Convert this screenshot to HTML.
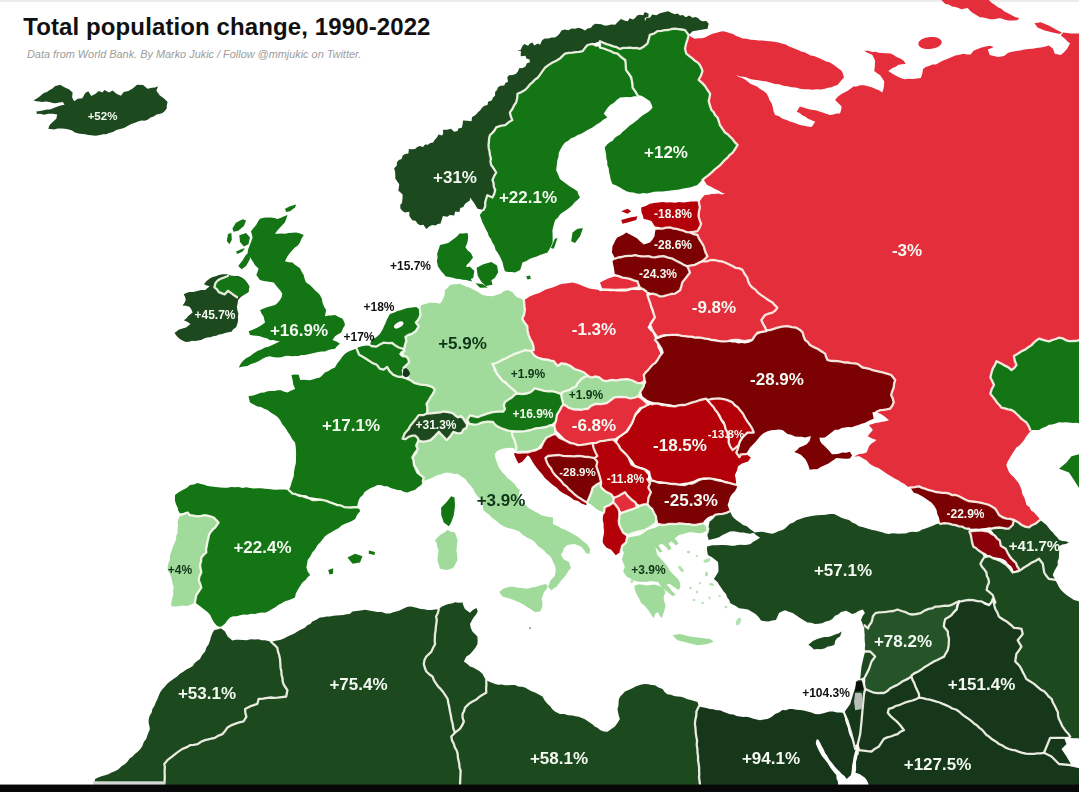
<!DOCTYPE html>
<html lang="en"><head><meta charset="utf-8"><title>Total population change, 1990-2022</title>
<style>
html,body{margin:0;padding:0;background:#fff}
body{width:1079px;height:792px;overflow:hidden;position:relative;font-family:"Liberation Sans",Arial,sans-serif}
svg{position:absolute;left:0;top:0;display:block;filter:blur(.4px)}
.b{fill:none;stroke:#fdfbf2;stroke-opacity:.9;stroke-width:2.3;stroke-linejoin:round;stroke-linecap:round}
text{font-family:"Liberation Sans",Arial,sans-serif;font-weight:bold;text-anchor:middle}
h1{position:absolute;left:23.2px;top:11.5px;margin:0;font-size:24px;letter-spacing:.11px;line-height:30px;font-weight:bold;color:#111;white-space:nowrap}
p.sub{position:absolute;left:27px;top:47.5px;margin:0;font-size:10.9px;line-height:13px;font-style:italic;color:#9c9c9c;white-space:nowrap}
</style></head><body>
<svg width="1079" height="792" viewBox="0 0 1079 792">
<rect width="1079" height="792" fill="#fff"/>
<rect width="1079" height="2" fill="#ececec"/>
<path id="russia" fill="#e52e3c" d="M688.8,35.0 691.7,37.2 695.0,38.8 698.3,38.3 701.7,38.2 705.0,37.5 708.7,35.5 712.5,33.8 715.8,32.9 719.1,32.0 722.5,31.2 725.9,31.8 729.2,32.9 732.5,33.8 735.7,35.7 739.2,37.0 742.6,38.6 746.7,38.7 750.8,39.8 755.0,39.9 758.7,40.4 762.5,40.6 766.2,41.1 770.0,41.2 774.2,41.7 778.4,42.6 782.5,43.7 785.8,44.6 788.7,46.3 791.9,47.6 795.0,48.8 798.1,50.1 801.1,51.6 804.5,52.2 807.5,53.8 810.5,55.4 813.9,55.9 817.0,57.2 820.1,58.6 823.1,60.1 826.1,61.6 829.5,62.3 832.4,63.9 835.3,66.0 838.1,68.2 841.1,70.2 842.9,73.6 844.0,77.4 841.6,79.9 839.6,82.5 837.5,85.0 834.4,86.0 831.4,87.3 828.1,87.8 825.0,88.7 820.9,89.5 816.6,89.3 812.5,89.8 808.4,89.3 804.2,89.3 800.0,88.8 795.9,87.6 791.6,87.2 787.5,86.2 783.3,85.8 779.2,84.3 775.0,83.9 770.9,82.7 766.8,81.6 762.5,81.1 758.4,80.2 754.1,79.7 750.0,78.9 746.8,77.5 743.4,76.7 740.0,76.4 736.2,75.1 738.8,77.1 742.2,78.0 745.0,79.6 747.7,81.6 750.3,83.7 753.4,85.0 757.0,86.6 760.1,89.1 763.5,90.9 766.6,93.5 768.3,96.7 769.6,100.2 771.6,103.3 772.8,107.2 773.6,111.2 775.1,115.0 779.1,116.3 782.6,118.8 786.7,120.0 789.9,121.6 793.3,122.5 796.7,123.8 800.0,124.9 803.9,125.8 807.7,126.5 811.6,126.9 815.2,121.8 811.6,120.2 808.1,118.8 805.1,116.5 802.1,115.2 799.7,112.9 796.6,111.8 799.9,106.6 803.4,107.4 806.6,108.6 809.9,109.4 813.4,109.9 816.8,110.5 820.1,111.7 823.4,112.8 826.7,113.9 830.0,115.0 833.4,114.6 836.6,113.6 840.0,113.5 841.1,110.1 841.6,106.6 838.4,103.3 835.1,99.9 837.3,97.3 840.0,95.0 843.3,92.9 846.9,91.2 850.2,89.1 853.3,86.6 856.8,86.4 860.0,85.3 864.1,85.3 868.1,86.2 872.3,87.5 876.3,89.2 879.4,90.5 882.3,92.5 883.5,88.7 884.1,85.0 884.2,81.2 882.2,78.2 880.2,75.2 877.2,73.2 874.2,71.0 874.7,67.7 874.9,64.3 875.2,60.9 873.8,57.8 872.2,54.8 868.0,53.0 864.1,50.7 868.2,50.8 872.2,51.9 875.6,51.8 878.9,52.7 882.3,52.9 886.4,53.2 890.5,53.6 893.7,54.9 896.5,57.0 900.3,58.5 903.7,60.8 905.7,63.9 902.1,64.3 898.5,64.8 895.7,66.8 892.5,68.0 888.3,70.9 892.4,73.7 896.5,76.1 900.5,77.9 904.7,79.2 908.7,78.7 912.8,79.1 916.8,78.6 920.9,78.1 922.3,73.7 923.1,69.1 925.7,67.0 929.0,65.9 932.2,64.5 935.9,64.4 939.1,62.7 943.1,60.6 947.3,59.0 951.3,57.3 955.3,55.6 959.5,54.8 963.5,53.7 967.1,54.4 970.6,54.6 973.6,50.7 977.7,49.1 981.7,47.6 985.8,46.4 989.9,45.8 993.9,46.9 991.0,48.3 987.8,49.6 989.8,54.9 993.9,56.0 998.0,56.9 1004.1,55.9 1008.1,52.7 1012.2,51.8 1016.3,50.9 1020.4,50.5 1024.4,49.6 1028.4,49.0 1032.5,48.7 1036.6,48.0 1040.6,47.6 1044.7,46.7 1048.7,45.5 1052.9,48.6 1054.8,53.8 1060.9,54.9 1064.3,52.0 1067.1,48.8 1070.0,43.6 1067.3,41.3 1064.9,38.7 1060.9,35.6 1063.1,32.6 1067.0,33.0 1071.1,33.5 1075.6,33.4 1080.2,33.4 1082.2,37.0 1084.9,40.1 1084.5,43.2 1085.2,46.4 1085.4,49.6 1084.9,52.8 1085.4,56.0 1085.2,59.2 1085.0,62.4 1084.8,65.6 1085.1,68.8 1085.4,72.0 1085.3,75.2 1084.7,78.4 1084.6,81.6 1084.8,84.8 1085.3,88.0 1085.0,91.2 1084.6,94.4 1085.4,97.6 1085.0,100.8 1085.4,104.0 1084.6,107.2 1084.9,110.4 1085.5,113.6 1084.8,116.8 1084.5,120.0 1085.2,123.2 1084.7,126.4 1084.5,129.6 1085.0,132.8 1084.9,136.0 1084.8,139.2 1084.6,142.4 1085.5,145.6 1085.0,148.8 1084.6,152.0 1085.4,155.2 1085.5,158.4 1085.1,161.6 1084.7,164.8 1085.3,168.0 1084.9,171.2 1085.0,174.4 1085.3,177.6 1085.4,180.8 1085.5,184.0 1085.0,187.2 1085.1,190.4 1084.9,193.6 1084.6,196.8 1084.7,200.0 1085.1,203.2 1085.2,206.4 1084.7,209.6 1084.9,212.8 1085.5,216.0 1084.8,219.2 1084.8,222.4 1085.3,225.6 1085.5,228.8 1085.5,232.0 1084.9,235.2 1084.6,238.4 1084.7,241.6 1084.8,244.8 1084.7,248.0 1084.9,251.2 1084.5,254.4 1085.1,257.6 1084.7,260.8 1084.6,264.0 1085.3,267.2 1085.0,270.4 1085.3,273.6 1084.6,276.8 1085.0,280.0 1085.5,283.2 1084.5,286.4 1085.0,289.6 1085.5,292.8 1084.9,296.0 1084.8,299.2 1084.5,302.4 1085.0,305.6 1085.1,308.8 1085.4,312.0 1084.8,315.2 1085.0,318.4 1084.9,321.6 1085.3,324.8 1085.3,328.0 1085.5,331.2 1085.1,334.4 1084.5,337.6 1084.8,340.8 1084.5,344.0 1085.5,347.2 1085.4,350.4 1084.8,353.6 1084.7,356.8 1085.3,360.0 1085.1,363.2 1085.1,366.4 1084.8,369.6 1084.7,372.8 1085.3,376.0 1084.8,379.2 1084.7,382.4 1085.0,385.6 1084.6,388.8 1085.2,392.0 1085.4,395.2 1085.1,398.4 1084.6,401.6 1084.8,404.8 1085.2,408.0 1084.9,411.2 1084.6,414.4 1085.4,417.6 1085.2,420.8 1084.7,424.0 1085.2,427.2 1084.9,430.4 1085.4,433.6 1084.5,436.8 1084.8,440.0 1084.3,436.8 1083.6,433.6 1083.5,430.3 1081.9,427.2 1081.4,424.0 1080.5,420.8 1080.3,417.5 1076.8,417.1 1073.3,417.0 1069.8,417.0 1066.4,417.4 1062.9,417.0 1059.4,417.4 1055.9,417.8 1052.5,417.7 1049.0,417.3 1046.5,419.7 1043.7,421.6 1041.2,423.7 1039.1,426.4 1035.8,427.5 1033.1,429.4 1030.3,431.4 1028.1,434.1 1025.9,436.9 1024.1,440.1 1021.8,442.8 1019.4,445.4 1016.4,447.4 1013.9,451.2 1011.5,455.0 1009.6,458.2 1007.7,461.4 1006.3,464.9 1007.6,468.8 1009.2,472.4 1011.4,475.1 1014.1,477.4 1016.3,480.2 1018.6,483.1 1020.2,486.5 1021.6,490.0 1022.3,493.9 1024.3,497.4 1025.5,501.2 1026.5,505.0 1029.4,507.1 1031.1,510.4 1034.1,512.4 1036.3,514.9 1038.4,517.3 1040.1,520.1 1035.2,523.7 1031.9,525.2 1029.1,527.6 1025.2,526.3 1021.5,525.0 1017.6,522.8 1014.0,520.0 1010.3,519.3 1006.5,518.8 1003.0,516.4 999.1,514.8 996.8,512.1 995.2,508.8 992.2,506.7 988.9,505.2 985.5,504.7 982.4,503.1 979.0,502.3 975.7,501.8 972.3,501.7 969.0,501.1 965.6,499.7 962.3,498.0 959.0,496.2 955.5,495.9 952.2,495.1 949.0,493.8 945.6,493.8 942.3,492.9 939.0,492.3 935.7,491.4 932.5,490.4 929.0,490.0 925.7,488.6 922.4,487.2 919.0,486.4 914.7,487.3 910.3,487.6 907.1,486.3 904.5,484.0 901.5,482.5 898.3,480.3 894.7,478.6 891.4,476.4 888.0,474.4 884.7,472.3 881.5,469.9 878.4,467.9 874.8,466.7 871.5,465.0 868.9,463.0 866.7,460.6 863.9,458.9 860.3,456.8 856.5,455.0 859.0,456.2 854.0,456.4 859.1,453.9 862.8,453.7 866.5,452.4 867.9,449.4 869.0,446.2 871.2,443.8 873.9,442.0 876.5,440.0 872.0,438.5 867.7,436.3 870.2,433.1 872.9,430.1 868.9,425.1 872.3,423.9 875.6,422.9 879.0,422.5 882.3,421.7 885.8,421.3 889.0,420.2 886.4,418.1 884.0,416.0 881.3,414.2 878.3,412.9 875.9,410.8 873.3,408.9 870.8,407.0 867.9,405.5 865.1,403.9 862.7,401.8 860.0,400.0 857.0,398.5 854.3,396.7 851.8,394.6 849.2,392.5 846.1,391.3 843.4,389.5 840.8,387.5 837.9,385.9 835.4,383.8 832.6,382.0 829.7,380.5 827.1,378.5 824.8,376.0 821.7,374.8 818.9,373.0 816.2,371.1 813.5,369.3 810.8,367.4 808.1,365.5 805.4,363.7 803.0,361.4 799.9,360.1 797.0,358.5 794.8,355.9 792.1,354.1 789.1,352.7 786.6,350.5 783.9,348.7 780.7,347.6 778.1,345.6 775.3,343.9 772.8,341.7 770.3,339.6 767.1,338.4 764.3,336.7 761.7,334.7 758.9,333.0 756.5,330.7 753.8,328.9 751.1,327.0 748.4,325.1 745.7,323.2 742.5,322.1 740.1,319.9 737.4,318.0 734.6,316.1 731.7,314.4 729.4,311.9 726.6,310.0 724.1,307.9 721.1,306.3 718.9,303.6 716.3,301.6 713.3,300.0 710.3,298.4 708.1,295.9 705.1,294.3 702.4,292.4 700.0,290.0 698.8,286.8 698.0,283.4 697.3,280.1 696.6,276.7 695.9,273.3 694.7,270.1 694.5,266.6 692.8,263.5 692.9,259.9 691.7,256.7 690.8,253.4 689.9,250.0 690.5,246.8 690.4,243.6 690.7,240.4 690.6,237.2 690.5,234.0 690.8,230.8 691.1,227.6 691.7,224.4 692.3,221.2 692.0,218.0 693.1,214.4 695.1,211.2 697.0,207.9 698.3,204.4 699.9,201.0 702.1,197.7 704.8,194.9 708.3,194.8 711.6,193.9 715.0,194.0 718.3,193.6 721.7,194.4 725.0,193.8 721.6,192.5 718.4,190.5 715.0,189.1 711.1,186.8 707.1,184.9 704.5,181.0 702.1,176.9 700.3,174.1 699.3,171.0 698.5,167.8 696.6,165.0 695.3,162.0 693.9,159.1 693.1,155.8 691.5,152.9 690.1,150.0 689.8,146.8 689.3,143.6 688.5,140.4 688.8,137.1 688.6,133.9 687.4,130.8 687.2,127.5 687.3,124.3 687.2,121.0 686.1,117.9 685.7,114.7 686.1,111.4 685.2,108.2 685.1,105.0 684.3,101.8 684.0,98.6 683.7,95.4 683.4,92.2 683.6,88.9 682.7,85.7 683.0,82.4 682.0,79.3 682.1,76.0 681.9,72.8 680.7,69.7 681.0,66.4 680.2,63.2 679.9,60.0 681.2,56.9 682.0,53.7 683.5,50.7 684.0,47.4 685.0,44.2 686.9,41.4 687.7,38.1Z"/>
<path id="nz" fill="#e52e3c" d="M940.2,-1.0 942.9,1.4 945.3,4.0 948.8,4.6 951.9,6.5 955.4,7.0 958.5,7.9 961.4,9.3 967.6,8.1 970.1,10.7 972.8,13.1 976.3,15.0 979.8,17.2 983.2,17.5 986.6,18.3 989.9,19.3 993.3,19.3 996.7,18.8 1000.0,18.1 1004.1,19.4 1008.1,20.5 1012.7,20.5 1017.3,20.3 1019.2,18.1 1015.6,17.2 1012.2,15.4 1008.1,13.2 1004.1,11.2 1001.3,8.7 997.9,7.2 995.0,5.0 991.9,3.1 987.8,-0.9 984.5,-1.6 981.1,-1.3 977.6,-0.5 974.2,-0.5 970.8,-0.8 967.4,-0.7 964.0,-1.4 960.6,-0.5 957.2,-0.9 953.8,-1.1 950.4,-0.6 947.0,-1.0 943.6,-1.0Z"/>
<path id="nz2" fill="#e52e3c" d="M1034.5,23.3 1040.6,22.3 1048.8,25.4 1055.9,29.4 1061.9,32.5 1059.9,34.1 1052.8,32.5 1044.7,30.4 1037.6,27.4Z"/>
<path id="kolg" fill="#e52e3c" d="M941.8,42.2 940.9,44.6 938.3,46.7 934.5,48.3 930.0,49.1 925.5,48.9 921.7,47.9 919.1,46.1 918.2,43.8 919.1,41.4 921.7,39.3 925.5,37.7 930.0,36.9 934.5,37.1 938.3,38.1 940.9,39.9Z"/>
<path id="kaz" fill="#137513" d="M1080.2,340.0 1076.5,340.8 1072.8,341.0 1069.0,341.1 1065.6,340.1 1062.5,338.3 1058.9,337.7 1055.8,339.0 1052.3,340.0 1049.1,341.4 1045.6,340.6 1042.3,339.7 1039.0,338.6 1036.3,340.5 1033.8,342.7 1031.6,345.1 1028.3,347.3 1025.1,349.6 1021.5,351.3 1017.8,353.8 1013.9,356.1 1014.8,360.8 1016.5,365.0 1014.4,367.9 1011.5,370.0 1008.0,367.1 1003.9,365.1 1000.2,363.1 996.5,361.2 994.9,365.1 992.7,368.7 991.4,373.1 990.4,377.5 992.3,381.2 994.0,385.0 991.7,389.2 990.3,393.8 992.8,396.8 995.3,400.0 997.1,402.7 999.4,405.0 1001.4,407.6 1004.8,408.4 1008.1,409.3 1011.5,410.0 1014.3,411.7 1016.7,414.0 1019.1,416.2 1021.3,418.6 1023.9,420.6 1026.5,422.5 1028.7,426.1 1030.3,430.0 1034.6,429.9 1039.0,430.1 1042.2,428.0 1045.7,426.7 1048.9,424.8 1052.4,424.6 1055.7,423.4 1059.0,422.3 1062.3,422.6 1065.7,422.2 1069.0,422.4 1072.7,423.1 1076.6,422.8 1080.3,423.6 1080.8,420.5 1080.8,417.3 1079.8,414.1 1079.7,410.9 1080.0,407.6 1080.5,404.4 1079.8,401.2 1079.7,398.0 1080.3,394.8 1079.8,391.5 1080.7,388.3 1080.7,385.1 1080.0,381.9 1079.7,378.7 1080.5,375.4 1080.6,372.2 1080.3,369.0 1080.6,365.8 1080.7,362.5 1079.9,359.3 1079.7,356.1 1079.8,352.9 1080.1,349.7 1079.9,346.4 1080.0,343.2Z"/>
<path class="b" d="M1080.2,340.0 1076.5,340.8 1072.8,341.0 1069.0,341.1 1065.6,340.1 1062.5,338.3 1058.9,337.7 1055.8,339.0 1052.3,340.0 1049.1,341.4 1045.6,340.6 1042.3,339.7 1039.0,338.6 1036.3,340.5 1033.8,342.7 1031.6,345.1 1028.3,347.3 1025.1,349.6 1021.5,351.3 1017.8,353.8 1013.9,356.1 1014.8,360.8 1016.5,365.0 1014.4,367.9 1011.5,370.0 1008.0,367.1 1003.9,365.1 1000.2,363.1 996.5,361.2 994.9,365.1 992.7,368.7 991.4,373.1 990.4,377.5 992.3,381.2 994.0,385.0 991.7,389.2 990.3,393.8 992.8,396.8 995.3,400.0 997.1,402.7 999.4,405.0 1001.4,407.6 1004.8,408.4 1008.1,409.3 1011.5,410.0 1014.3,411.7 1016.7,414.0 1019.1,416.2 1021.3,418.6 1023.9,420.6 1026.5,422.5 1028.7,426.1 1030.3,430.0"/>
<path id="kaz2" fill="#137513" d="M1059.0,468.8 1066.5,462.5 1071.5,456.2 1080.2,453.8 1080.2,490.0 1074.0,480.0 1069.0,472.5Z"/>
<path id="germany" fill="#a0db9c" d="M421.2,305.0 425.7,304.1 430.0,302.5 433.4,302.7 436.7,303.1 440.0,303.7 442.1,300.8 443.7,297.5 444.8,293.8 444.9,290.0 447.7,287.7 450.0,285.0 453.3,284.3 456.7,284.2 460.0,283.7 463.3,285.2 466.5,286.7 469.9,287.7 473.6,289.7 477.4,291.4 482.5,294.9 485.8,295.7 489.2,295.9 492.5,296.3 496.3,295.1 500.0,293.9 503.6,291.6 507.5,290.1 512.6,292.3 514.8,295.2 517.4,297.6 520.7,298.5 523.7,300.2 524.6,303.3 524.1,306.7 524.9,310.0 524.1,314.5 522.4,318.7 524.5,322.8 527.7,326.1 528.2,330.6 528.8,335.0 530.2,339.0 532.6,342.5 533.6,346.2 533.8,350.0 530.0,352.6 525.0,353.7 521.1,354.7 517.4,356.1 514.3,357.9 510.8,358.6 507.6,360.2 503.6,360.8 500.0,362.4 495.1,365.1 493.6,370.0 496.1,373.9 498.8,377.5 501.6,380.9 505.1,383.7 508.9,386.1 512.6,388.6 515.0,391.2 517.6,393.6 513.8,398.3 510.5,399.9 507.5,402.0 505.1,407.0 507.7,411.9 502.5,414.6 498.7,414.3 495.0,413.3 491.6,413.8 488.5,415.4 485.0,415.8 481.7,416.9 478.2,417.0 475.0,418.1 471.1,419.8 467.5,422.0 462.5,425.8 459.4,424.5 456.2,423.4 450.0,422.0 446.2,421.6 442.5,420.7 438.8,420.0 435.0,419.5 431.2,420.0 427.5,419.5 425.9,416.1 425.1,412.5 426.0,409.2 426.5,405.8 427.6,402.5 429.4,398.1 431.3,393.8 432.7,390.6 428.6,389.3 425.0,387.5 421.6,386.9 418.4,385.3 415.0,384.6 410.1,381.9 409.6,378.7 408.5,375.6 407.6,372.5 405.3,368.9 403.8,365.0 404.8,361.3 404.9,357.5 403.7,353.7 402.0,350.0 401.9,346.2 402.5,342.5 403.9,338.8 404.8,334.9 408.7,332.4 412.5,330.0 412.8,326.2 413.9,322.5 415.3,318.6 417.4,314.9 418.4,311.5 420.2,308.4Z"/>
<path id="poland" fill="#e52e3c" d="M523.8,300.0 526.7,298.5 529.6,296.6 532.6,295.2 535.9,294.0 539.3,293.0 542.5,291.3 545.7,289.6 549.1,288.6 552.5,287.6 555.9,286.3 559.1,284.8 562.5,283.8 565.9,283.6 569.2,282.9 572.5,282.6 576.3,283.5 580.1,284.8 583.4,286.2 586.7,287.5 590.0,288.8 594.4,289.3 598.7,290.0 600.0,291.2 603.3,290.8 606.7,290.8 610.0,291.2 614.2,291.0 618.3,291.4 622.5,291.5 626.7,291.4 630.8,290.0 635.0,290.0 638.8,290.2 642.5,289.4 646.2,292.6 647.3,296.3 648.8,300.0 650.1,303.2 650.2,306.7 651.4,310.0 653.2,313.7 655.0,317.5 652.2,319.7 650.1,322.6 647.5,327.5 649.8,330.2 652.4,332.6 654.1,336.1 655.2,339.9 656.8,343.6 657.5,347.5 659.5,351.2 661.1,355.1 659.5,357.8 656.8,359.8 655.0,362.5 652.2,366.1 650.1,370.1 647.5,373.1 645.1,376.3 643.6,381.5 640.8,384.0 637.1,383.8 632.5,381.1 627.7,380.5 622.0,380.2 616.3,381.3 611.6,380.8 606.8,382.4 603.0,381.1 599.1,378.6 595.5,377.4 591.7,378.5 587.8,376.8 584.0,373.8 579.4,371.5 574.6,369.9 570.9,367.0 566.1,365.3 561.4,364.2 557.7,367.2 553.7,362.5 549.9,359.6 545.5,358.6 541.0,358.3 537.8,357.0 534.4,356.0 530.9,351.0 533.8,350.1 533.4,346.2 532.3,342.5 530.2,339.0 528.6,335.1 527.6,330.7 527.3,326.3 524.6,322.8 522.3,318.9 524.1,314.5 524.9,310.0 524.5,306.7 524.2,303.3Z"/>
<path class="b" d="M530.9,351.0 533.8,350.1 533.4,346.2 532.3,342.5 530.2,339.0 528.6,335.1 527.6,330.7 527.3,326.3 524.6,322.8 522.3,318.9 524.1,314.5 524.9,310.0 524.5,306.7 524.2,303.3 523.8,300.0"/>
<path id="ukraine" fill="#7c0103" d="M655.0,340.0 658.4,339.0 661.7,337.5 665.1,336.5 668.3,335.6 671.7,335.3 675.0,335.1 678.4,335.2 681.7,335.5 685.0,336.4 688.3,337.1 691.6,337.4 695.0,337.7 698.3,338.2 701.7,337.9 705.0,338.6 708.3,339.9 711.6,340.5 715.0,341.2 718.3,341.2 721.7,341.2 725.0,341.4 728.4,341.3 731.6,342.4 735.0,342.5 738.3,343.4 741.7,343.1 745.0,343.6 748.8,342.8 752.5,341.1 753.7,337.5 755.1,333.8 758.8,332.8 762.5,331.3 766.2,330.2 770.0,330.1 773.8,328.9 777.6,327.7 780.8,326.8 784.1,326.4 787.5,326.1 791.8,327.1 796.2,327.7 799.7,329.7 802.6,332.4 803.6,336.3 805.1,340.0 807.9,342.1 809.9,345.1 813.6,347.1 817.5,348.7 821.3,351.2 825.1,353.6 826.1,356.9 827.5,360.0 830.8,360.9 834.2,361.0 837.5,361.1 840.8,361.6 844.1,362.5 847.5,362.5 850.8,363.1 854.2,363.4 857.5,363.8 862.5,367.5 865.9,368.1 869.3,368.8 872.5,370.1 875.8,370.9 879.2,371.7 882.5,372.3 886.9,373.7 891.2,375.0 895.2,379.9 894.1,383.7 893.7,387.5 892.3,391.2 891.1,395.0 892.8,398.6 893.7,402.5 892.2,405.8 890.0,408.7 886.7,409.3 883.4,409.8 880.0,410.2 876.4,411.8 872.4,412.3 873.7,418.8 869.3,420.5 865.1,422.7 861.6,423.7 858.4,425.1 855.0,426.1 851.7,427.2 848.3,426.9 845.0,427.5 841.6,427.9 838.5,429.7 834.9,429.8 829.9,433.7 824.9,437.4 821.7,437.7 818.3,437.3 815.0,437.4 810.0,436.2 805.0,437.6 801.7,436.8 798.3,436.7 795.0,436.4 791.3,434.8 787.5,433.9 782.5,430.0 778.8,429.6 775.0,430.1 771.2,430.2 767.5,431.2 763.5,433.3 760.1,436.3 757.5,439.4 755.0,442.5 752.5,445.0 750.0,447.5 747.7,451.4 744.9,454.9 742.2,457.2 740.0,460.0 737.7,456.5 736.4,452.4 737.2,448.6 738.6,445.0 740.9,441.4 742.5,437.5 745.2,435.2 747.6,432.6 753.8,432.7 751.8,428.8 749.9,425.1 747.9,421.0 745.2,417.4 742.5,413.8 740.0,410.0 737.5,407.5 735.4,404.6 732.5,402.5 729.1,401.4 725.9,399.7 722.5,398.8 718.8,399.2 715.0,398.9 711.2,398.8 707.5,400.1 702.5,401.4 698.7,401.8 695.0,402.5 691.2,403.7 687.5,404.9 683.8,406.4 680.1,407.7 676.3,406.1 672.5,405.1 668.8,404.1 665.0,403.7 661.7,403.1 658.4,402.4 655.0,402.6 651.2,401.5 647.5,400.1 642.5,396.2 641.5,393.0 640.1,389.9 642.5,386.2 645.2,382.6 644.3,378.8 643.8,375.0 645.6,372.3 648.1,370.1 650.1,367.6 652.4,364.9 655.4,362.9 657.5,360.0 659.8,356.1 662.7,352.6 661.7,349.2 660.0,346.3 657.8,342.9Z"/>
<path class="b" d="M755.1,333.8 758.8,332.8 762.5,331.3 766.2,330.2 770.0,330.1 773.8,328.9 777.6,327.7 780.8,326.8 784.1,326.4 787.5,326.1 791.8,327.1 796.2,327.7 799.7,329.7 802.6,332.4 803.6,336.3 805.1,340.0 807.9,342.1 809.9,345.1 813.6,347.1 817.5,348.7 821.3,351.2 825.1,353.6 826.1,356.9 827.5,360.0 830.8,360.9 834.2,361.0 837.5,361.1 840.8,361.6 844.1,362.5 847.5,362.5 850.8,363.1 854.2,363.4 857.5,363.8 862.5,367.5 865.9,368.1 869.3,368.8 872.5,370.1 875.8,370.9 879.2,371.7 882.5,372.3 886.9,373.7 891.2,375.0 895.2,379.9 894.1,383.7 893.7,387.5 892.3,391.2 891.1,395.0 892.8,398.6 893.7,402.5 892.2,405.8 890.0,408.7 886.7,409.3 883.4,409.8 880.0,410.2 876.4,411.8M642.5,386.2 645.2,382.6 644.3,378.8 643.8,375.0 645.6,372.3 648.1,370.1 650.1,367.6 652.4,364.9 655.4,362.9 657.5,360.0 659.8,356.1 662.7,352.6 661.7,349.2 660.0,346.3 657.8,342.9 655.0,340.0"/>
<path id="romania" fill="#b40008" d="M627.5,432.5 629.6,429.5 631.2,426.2 633.6,422.1 634.8,417.4 637.4,414.3 640.1,411.4 642.3,408.6 644.9,406.2 648.4,405.7 651.6,404.3 655.0,403.7 658.4,403.7 661.6,405.0 665.0,404.9 668.3,405.8 671.6,406.0 675.0,406.4 678.3,405.4 681.6,404.9 685.0,405.0 688.7,403.7 692.4,402.3 696.3,401.4 700.0,400.0 706.2,398.7 709.2,402.0 712.7,404.8 714.2,408.3 716.2,411.5 717.6,414.9 719.5,418.4 721.3,421.9 723.7,425.0 725.0,428.4 726.8,431.5 727.3,435.1 727.9,438.3 728.1,441.7 728.8,445.0 732.4,450.0 732.5,450.0 735.5,447.4 738.8,445.1 737.9,448.9 736.3,452.5 739.4,457.1 740.8,454.4 746.0,454.1 750.9,457.6 748.1,461.4 742.0,463.6 738.0,466.3 736.9,470.8 734.9,475.0 735.6,478.3 736.0,481.6 736.2,485.0 732.4,489.9 731.1,486.9 729.6,483.9 727.5,481.2 724.0,480.9 720.9,479.2 717.5,478.7 714.2,477.9 710.8,478.4 707.5,477.5 704.1,477.6 700.8,477.9 697.5,478.7 694.4,480.5 690.9,481.5 687.5,482.5 684.1,482.8 680.9,483.5 677.5,483.8 674.1,483.5 670.8,483.3 667.5,482.6 664.1,482.6 660.9,481.3 657.5,481.2 652.5,480.1 650.9,475.7 650.1,471.2 646.5,468.9 642.4,467.6 638.6,466.6 635.1,464.8 632.8,461.1 629.9,457.6 627.1,455.4 625.0,452.5 622.4,450.1 619.0,447.3 616.2,443.8 618.0,440.0 620.1,436.3 623.7,434.3Z"/>
<path class="b" d="M651.6,404.3 655.0,403.7 658.4,403.7 661.6,405.0 665.0,404.9 668.3,405.8 671.6,406.0 675.0,406.4 678.3,405.4 681.6,404.9 685.0,405.0 688.7,403.7 692.4,402.3 696.3,401.4 700.0,400.0 706.2,398.7 709.2,402.0M738.8,445.1 737.9,448.9 736.3,452.5 739.4,457.1 740.8,454.4 746.0,454.1"/>
<path id="italy" fill="#a0db9c" d="M417.5,477.5 419.8,472.4 417.7,468.6 414.9,465.0 414.4,461.3 413.7,457.5 417.5,452.5 416.2,449.4 414.9,446.3 418.9,442.6 422.6,439.1 426.3,437.7 430.0,436.1 433.9,433.8 437.5,431.0 440.9,432.6 443.7,435.0 447.0,434.5 450.0,433.1 453.8,432.3 457.5,430.9 460.7,429.8 463.9,428.8 466.2,424.1 469.3,421.7 473.9,422.8 477.7,422.2 482.5,420.6 487.2,419.4 492.9,420.1 494.9,422.3 497.5,424.8 502.2,426.8 508.0,428.6 513.7,429.5 514.9,433.0 515.4,436.8 514.6,440.5 515.5,444.2 516.5,448.0 515.6,450.9 513.7,448.0 508.0,447.8 502.3,448.8 497.5,450.7 494.8,453.7 495.0,456.3 496.0,460.1 497.5,463.8 498.7,466.9 500.4,469.8 502.4,472.6 505.0,475.0 507.2,477.8 510.1,479.9 512.7,482.3 515.3,484.7 517.1,487.9 519.9,490.1 519.1,493.3 518.4,496.6 517.8,500.0 523.0,503.5 526.1,505.4 528.7,508.0 531.8,509.8 534.8,511.5 537.9,513.0 540.7,515.0 544.3,515.9 547.8,516.8 553.0,517.5 553.0,523.9 558.4,526.5 561.8,528.6 565.5,530.0 569.1,531.7 572.4,533.7 576.1,535.8 579.6,538.0 583.0,541.3 586.8,544.1 590.3,549.4 589.2,553.9 585.8,553.0 583.9,549.7 581.4,546.8 577.9,545.2 574.4,544.1 570.7,544.5 567.2,544.9 563.7,548.6 562.8,551.9 561.0,554.8 563.6,559.3 568.9,562.1 570.9,568.0 568.4,571.0 566.5,574.3 564.4,577.0 562.0,579.5 559.4,583.1 556.7,586.7 553.9,588.3 551.4,590.4 547.9,586.5 549.4,583.6 550.4,580.4 554.8,576.0 555.5,572.5 555.7,569.0 554.8,565.3 553.1,561.9 551.7,558.5 549.6,555.7 546.5,553.4 544.1,550.5 541.0,548.3 537.9,546.1 535.2,542.6 532.0,539.7 528.2,538.2 524.8,536.2 522.0,534.2 519.6,531.6 516.1,530.2 512.6,528.9 508.9,528.2 505.7,527.3 502.8,525.8 500.0,523.9 497.0,521.6 494.1,519.2 491.1,516.9 488.8,514.2 485.7,512.3 483.2,509.8 482.9,506.1 482.5,502.5 480.2,499.0 477.4,495.9 474.9,492.6 472.9,488.5 470.0,485.0 467.4,482.0 465.1,478.7 461.2,476.4 457.5,473.8 454.1,473.9 450.8,473.0 447.5,472.4 444.1,473.1 440.9,474.6 437.5,474.9 433.7,476.9 430.0,478.7 426.2,479.9 422.5,481.3Z"/>
<path class="b" d="M463.9,428.8 466.2,424.1 469.3,421.7 473.9,422.8"/>
<path id="greece" fill="#a0db9c" d="M617.5,550.0 620.6,546.9 623.6,543.6 626.1,539.9 627.6,537.5 633.8,536.4 640.0,535.2 643.2,533.2 646.2,531.1 649.2,529.6 652.4,528.6 655.8,527.4 659.0,525.8 662.5,525.1 665.8,524.4 669.2,524.4 672.5,523.8 675.8,524.1 679.2,523.9 682.5,523.7 685.9,523.9 689.2,524.5 692.5,525.1 695.8,524.2 699.1,523.7 702.5,523.6 706.1,526.4 706.3,529.6 707.0,532.9 707.5,536.3 706.9,530.3 704.0,532.2 700.7,533.2 696.7,533.1 692.7,532.3 688.6,532.3 684.7,533.5 678.6,535.3 674.6,538.5 676.8,540.7 678.5,543.5 675.6,545.5 671.6,541.3 668.6,543.6 671.5,548.5 668.5,550.5 666.8,547.7 664.3,545.6 661.4,543.4 658.4,545.5 660.4,548.5 662.6,551.4 659.4,552.5 657.6,549.8 655.3,547.5 656.4,551.5 657.6,555.5 660.1,557.9 662.5,560.6 665.0,563.6 667.5,566.6 669.3,569.8 671.6,572.7 675.7,576.7 678.0,579.0 679.6,581.8 680.5,586.9 678.7,590.0 673.6,586.8 669.6,583.7 666.5,584.8 669.4,587.5 671.6,590.8 675.7,594.8 672.6,596.1 670.0,594.0 667.5,591.8 663.5,588.8 665.5,591.9 663.6,597.0 664.1,601.1 665.5,605.0 664.7,609.2 663.5,613.2 661.6,618.2 659.5,615.4 658.3,612.2 655.4,613.2 653.5,618.2 650.3,613.1 648.2,610.1 646.1,607.2 643.7,605.1 641.2,603.0 639.8,600.0 638.2,597.0 636.6,594.0 635.2,590.9 634.2,585.8 639.2,584.3 642.7,584.8 646.3,585.4 650.3,585.1 654.4,584.6 660.4,586.3 662.0,588.1 660.0,585.1 658.2,581.9 654.3,581.5 650.3,580.9 646.3,581.9 642.2,581.8 638.1,581.7 634.2,580.6 631.1,578.8 627.0,576.9 625.1,574.2 623.1,571.7 624.9,566.6 623.4,563.2 621.9,559.7 623.0,556.1 623.9,552.5 621.1,548.4Z"/>
<path id="kalin" fill="#e52e3c" d="M600.0,282.5 607.5,278.8 615.0,276.2 622.5,277.5 630.0,278.8 637.5,281.2 638.8,287.5 627.5,289.5 615.0,290.0 602.5,289.5Z"/>
<path class="b" d="M638.8,287.5 627.5,289.5 615.0,290.0 602.5,289.5"/>
<path id="norway" fill="#1c491d" d="M487.5,195.0 486.2,202.5 483.8,210.0 477.5,208.8 473.8,202.5 470.0,197.5 470.0,197.5 469.9,200.6 467.1,202.3 464.9,204.1 463.3,207.1 460.3,208.0 459.4,211.9 455.2,211.5 454.2,215.4 449.9,214.9 447.3,216.7 442.9,215.9 441.8,219.6 440.6,223.4 437.7,224.0 435.4,225.4 432.3,224.9 429.9,226.1 426.3,229.1 423.4,224.8 420.0,225.3 417.4,223.5 415.6,220.8 412.3,220.3 410.7,218.1 409.3,215.7 409.4,211.8 404.9,212.6 402.3,210.7 400.4,208.4 400.3,204.8 402.0,202.9 402.3,200.2 402.6,197.5 402.6,194.6 400.5,192.5 398.3,190.5 398.9,187.4 399.2,184.2 397.1,181.3 395.3,178.4 395.3,175.2 395.1,171.7 394.1,168.5 396.8,165.6 396.9,162.4 398.8,160.0 401.6,158.9 402.6,155.7 405.0,154.0 408.4,153.5 408.9,149.1 412.1,149.2 415.1,149.0 417.2,146.9 419.8,146.1 423.1,146.9 425.0,144.5 428.0,144.7 430.2,143.0 433.1,142.4 434.8,139.7 436.9,137.5 438.5,134.6 442.1,135.5 443.2,133.4 442.9,129.7 447.1,129.7 451.0,128.8 454.1,131.7 457.5,130.9 458.4,128.5 461.8,127.8 462.5,125.0 463.1,120.6 467.2,120.8 471.5,121.3 472.1,117.0 474.5,115.8 476.5,114.0 478.2,111.9 480.3,110.3 482.0,107.7 484.4,105.7 487.5,105.0 488.1,101.8 491.7,100.6 492.9,97.8 495.1,95.6 495.1,92.0 497.1,89.8 498.2,87.0 500.7,85.7 504.2,85.5 505.4,82.9 508.0,81.7 507.3,77.3 509.0,75.3 512.6,75.1 515.7,74.1 517.8,71.7 519.2,68.2 522.8,67.9 525.5,66.5 526.9,63.3 529.9,62.3 529.6,59.4 526.4,58.5 525.5,55.8 520.7,56.3 520.9,51.0 517.2,50.4 520.9,49.7 522.2,46.2 524.4,44.1 528.0,45.7 530.0,43.4 532.5,42.4 534.2,45.6 537.8,43.4 540.1,44.7 541.0,42.4 542.4,40.0 544.8,38.6 548.4,38.6 551.6,37.6 555.0,37.5 557.6,35.8 559.7,33.4 561.5,30.5 564.7,29.6 568.4,30.3 571.6,28.6 575.0,28.8 578.5,27.8 581.8,28.7 585.0,30.4 587.6,28.6 590.7,28.1 592.7,25.6 595.0,23.8 598.1,23.9 601.3,24.3 604.3,25.4 607.4,25.6 611.3,24.6 615.2,24.8 618.0,21.7 620.9,19.0 624.9,20.7 627.8,21.2 629.6,18.3 632.9,19.6 635.2,18.0 637.1,15.4 639.8,14.7 643.2,15.2 644.8,12.1 648.7,13.8 648.4,16.7 644.8,18.0 644.9,21.2 646.5,17.9 650.3,17.4 652.1,14.5 656.4,15.3 659.9,13.2 664.8,11.9 668.5,11.2 671.7,13.1 674.9,14.2 677.9,13.5 679.9,15.6 682.9,15.1 685.8,17.3 689.3,15.6 692.5,17.7 695.5,17.1 698.0,18.0 700.1,20.2 702.5,21.3 706.3,20.9 708.7,23.8 707.5,28.8 700.0,30.0 692.5,31.2 688.8,35.0 685.0,30.0 675.0,28.8 665.0,30.0 657.5,31.2 650.0,35.0 647.5,43.8 640.0,48.8 630.0,47.5 620.0,48.8 610.0,45.0 600.0,41.2 592.5,43.8 587.5,45.0 582.5,51.2 572.5,52.5 565.0,53.8 560.0,58.8 552.5,62.5 545.0,67.5 540.0,75.0 532.5,82.5 525.0,90.0 517.5,93.8 516.2,102.5 510.0,112.5 512.5,120.0 505.0,125.0 496.2,127.5 490.0,135.0 488.8,145.0 490.0,155.0 491.2,165.0 496.2,172.5 492.5,180.0 495.0,190.0 492.5,197.5Z"/>
<path id="sweden" fill="#137513" d="M587.5,45.0 584.9,48.1 582.5,51.2 579.2,51.9 575.8,52.1 572.5,52.6 568.7,52.9 565.0,53.7 562.3,56.1 559.9,58.6 556.3,60.7 552.5,62.5 548.7,64.9 545.0,67.6 542.5,71.2 539.9,74.9 537.7,77.7 534.8,79.8 532.4,82.4 529.7,84.7 527.5,87.5 525.0,90.0 521.4,92.1 517.5,93.7 517.2,98.2 516.1,102.5 513.9,105.7 512.2,109.3 509.9,112.4 510.8,116.4 512.3,120.1 508.6,122.3 505.1,125.1 500.5,125.8 496.2,127.4 494.6,130.3 492.5,132.8 490.0,135.0 489.1,138.3 488.9,141.6 488.5,145.0 488.8,148.4 489.6,151.7 489.9,155.0 490.9,158.3 490.4,161.7 491.2,165.0 493.8,168.7 496.2,172.5 494.1,176.1 492.5,180.0 493.6,183.3 493.8,186.8 495.2,190.0 494.2,193.9 492.4,197.5 487.4,195.2 486.2,198.6 485.2,202.4 485.2,206.4 483.5,209.9 479.8,214.9 481.2,218.8 482.5,222.5 484.2,225.8 485.8,229.2 487.7,232.4 488.7,236.0 490.9,239.1 492.4,242.5 494.5,245.7 495.4,249.4 497.5,252.5 499.5,255.7 501.1,259.0 502.6,262.5 503.6,266.9 504.9,271.3 508.3,272.0 511.7,271.9 515.0,272.6 520.1,270.1 521.4,266.3 522.4,262.5 526.4,261.0 530.0,258.8 533.3,257.5 536.8,256.5 540.0,255.0 543.8,253.8 547.5,252.5 549.4,249.3 551.1,246.0 552.6,242.5 552.6,238.3 552.6,234.2 552.4,230.0 553.3,226.7 554.1,223.3 555.2,220.0 557.8,217.8 559.8,214.8 562.4,212.4 566.1,210.3 569.4,207.8 572.5,205.0 574.7,202.2 577.4,199.9 580.0,197.5 578.4,194.5 577.4,191.3 573.7,188.8 569.9,186.4 566.5,184.0 563.1,181.5 559.9,178.9 558.1,174.4 556.1,170.0 556.6,166.7 557.0,163.3 557.4,160.0 558.5,156.7 558.7,153.2 560.1,150.0 562.3,146.1 565.0,142.5 568.2,140.8 571.0,138.3 574.5,137.0 577.6,135.1 581.1,133.8 584.3,131.9 587.5,129.9 592.4,127.4 596.1,124.8 600.0,122.4 603.5,119.6 607.4,117.4 603.8,113.7 605.6,110.7 607.7,107.8 610.1,105.1 613.6,102.9 616.7,100.0 620.1,97.6 623.5,97.3 627.0,97.1 630.5,97.3 634.0,96.3 637.5,96.2 635.7,93.4 634.1,90.4 632.5,87.5 631.4,83.8 631.3,80.0 629.3,76.3 627.4,72.5 626.6,69.2 627.1,65.8 626.3,62.5 623.8,60.3 622.2,57.4 619.9,55.1 616.7,53.7 613.4,52.2 610.1,51.1 606.7,50.0 603.3,48.9 600.0,47.4 596.2,45.7 592.4,43.9Z"/>
<path class="b" d="M596.2,45.7 592.4,43.9 587.5,45.0 584.9,48.1 582.5,51.2 579.2,51.9 575.8,52.1 572.5,52.6 568.7,52.9 565.0,53.7 562.3,56.1 559.9,58.6 556.3,60.7 552.5,62.5 548.7,64.9 545.0,67.6 542.5,71.2 539.9,74.9 537.7,77.7 534.8,79.8 532.4,82.4 529.7,84.7 527.5,87.5 525.0,90.0 521.4,92.1 517.5,93.7 517.2,98.2 516.1,102.5 513.9,105.7 512.2,109.3 509.9,112.4 510.8,116.4 512.3,120.1 508.6,122.3 505.1,125.1 500.5,125.8 496.2,127.4 494.6,130.3 492.5,132.8 490.0,135.0 489.1,138.3 488.9,141.6 488.5,145.0 488.8,148.4 489.6,151.7 489.9,155.0 490.9,158.3 490.4,161.7 491.2,165.0 493.8,168.7 496.2,172.5 494.1,176.1 492.5,180.0 493.6,183.3 493.8,186.8 495.2,190.0 494.2,193.9 492.4,197.5 487.4,195.2 486.2,198.6 485.2,202.4 485.2,206.4 483.5,209.9"/>
<path id="gotland" fill="#137513" d="M572.5,232.5 577.5,228.8 583.0,228.2 580.0,236.2 575.0,243.0 571.2,241.2Z"/>
<path id="oland" fill="#137513" d="M550.8,248.0 555.0,238.8 557.5,238.0 553.8,248.8Z"/>
<path id="finland" fill="#137513" d="M600.0,41.2 603.3,42.7 606.5,44.1 610.0,45.1 613.3,46.4 616.8,47.2 619.9,48.9 623.3,47.9 626.7,47.8 630.0,47.6 633.3,48.2 636.7,47.9 640.0,48.8 643.9,46.4 647.4,43.6 648.7,39.4 649.8,34.9 654.0,33.6 657.4,31.1 661.3,30.8 665.0,30.1 668.4,30.0 671.6,29.0 675.0,28.7 678.3,29.1 681.7,29.5 685.0,30.1 688.7,35.0 687.5,39.4 686.1,43.7 685.0,48.8 686.3,53.7 689.4,56.2 692.6,58.7 695.0,60.8 697.8,62.6 699.9,65.1 701.4,68.1 702.5,71.2 700.9,75.7 698.6,79.9 702.1,82.9 705.1,86.1 707.5,90.0 710.1,93.7 709.5,97.5 708.7,101.2 710.0,105.6 711.4,110.0 713.7,112.2 715.1,115.2 717.5,117.5 718.8,121.2 719.9,125.0 722.5,128.8 725.0,132.5 727.7,134.3 730.0,136.6 732.4,138.8 734.7,142.1 737.6,144.9 735.2,148.9 732.7,152.6 729.8,154.8 727.6,157.6 724.9,159.9 722.5,162.5 720.1,165.1 717.4,167.4 714.8,169.4 712.5,171.6 710.0,173.8 707.6,175.9 704.9,177.8 702.4,179.9 699.8,182.3 697.4,184.9 694.2,186.0 691.0,187.2 687.5,187.7 683.4,188.5 679.2,189.4 675.0,190.1 670.8,190.5 666.7,191.1 662.5,191.5 658.3,191.5 654.1,191.8 650.0,192.7 646.7,193.4 643.3,193.1 640.0,193.8 636.7,193.5 633.4,192.5 630.0,192.3 626.5,191.2 623.2,189.5 620.0,187.5 616.3,185.6 612.4,183.9 610.7,179.5 609.8,175.1 609.0,171.7 608.7,168.2 607.3,165.0 607.3,161.6 606.3,158.4 606.2,155.0 605.5,151.3 604.8,147.5 607.1,144.6 609.8,142.3 612.7,140.7 614.7,138.0 617.4,136.1 620.3,134.6 622.4,132.0 624.9,129.9 627.4,127.8 629.8,125.6 632.5,123.7 635.1,121.8 637.7,119.8 640.0,117.5 643.6,114.7 647.4,112.4 650.3,110.3 652.6,107.6 651.4,104.3 650.0,101.2 644.9,97.7 641.4,95.8 637.5,95.1 635.1,91.2 632.5,87.5 632.5,84.1 631.8,80.8 631.3,77.5 628.8,73.7 626.1,70.1 625.8,66.7 625.7,63.3 625.2,60.0 622.4,58.0 619.9,56.0 617.6,53.6 614.0,52.9 610.9,51.2 607.5,50.0 603.8,48.5 600.0,47.6Z"/>
<path class="b" d="M637.5,95.1 635.1,91.2 632.5,87.5 632.5,84.1 631.8,80.8 631.3,77.5 628.8,73.7 626.1,70.1 625.8,66.7 625.7,63.3 625.2,60.0 622.4,58.0 619.9,56.0 617.6,53.6 614.0,52.9 610.9,51.2 607.5,50.0 603.8,48.5 600.0,47.6 600.0,41.2 603.3,42.7 606.5,44.1 610.0,45.1 613.3,46.4 616.8,47.2 619.9,48.9 623.3,47.9 626.7,47.8 630.0,47.6 633.3,48.2 636.7,47.9 640.0,48.8 643.9,46.4 647.4,43.6 648.7,39.4 649.8,34.9 654.0,33.6 657.4,31.1 661.3,30.8 665.0,30.1 668.4,30.0 671.6,29.0 675.0,28.7 678.3,29.1 681.7,29.5 685.0,30.1 688.7,35.0 687.5,39.4 686.1,43.7 685.0,48.8 686.3,53.7 689.4,56.2 692.6,58.7 695.0,60.8 697.8,62.6 699.9,65.1 701.4,68.1 702.5,71.2 700.9,75.7 698.6,79.9 702.1,82.9 705.1,86.1 707.5,90.0 710.1,93.7 709.5,97.5 708.7,101.2 710.0,105.6 711.4,110.0 713.7,112.2 715.1,115.2 717.5,117.5 718.8,121.2 719.9,125.0 722.5,128.8 725.0,132.5 727.7,134.3 730.0,136.6 732.4,138.8 734.7,142.1 737.6,144.9 735.2,148.9 732.7,152.6 729.8,154.8 727.6,157.6 724.9,159.9 722.5,162.5 720.1,165.1 717.4,167.4 714.8,169.4 712.5,171.6 710.0,173.8 707.6,175.9 704.9,177.8 702.4,179.9"/>
<path id="estonia" fill="#b40008" d="M641.2,207.5 645.8,206.0 650.0,203.7 654.1,203.0 658.3,202.4 662.5,201.9 666.7,202.5 670.8,202.2 675.0,202.7 679.2,202.1 683.3,202.4 687.5,202.0 691.2,201.5 695.0,201.6 698.7,201.2 699.9,207.5 698.9,211.8 698.6,216.2 699.7,220.1 701.1,223.8 699.6,227.6 697.4,231.2 693.7,231.8 690.0,232.5 686.7,231.6 683.4,230.5 680.0,230.1 676.7,229.0 673.2,228.9 670.0,227.4 666.2,227.7 662.5,228.9 658.9,227.0 654.9,226.4 651.4,221.1 647.6,219.7 643.7,218.9 642.8,215.5 641.5,212.4Z"/>
<path class="b" d="M698.7,201.2 699.9,207.5 698.9,211.8 698.6,216.2 699.7,220.1 701.1,223.8 699.6,227.6 697.4,231.2 693.7,231.8 690.0,232.5"/>
<path id="est_i1" fill="#b40008" d="M621.2,211.2 627.5,208.8 631.2,211.2 627.5,213.8Z"/>
<path id="est_i2" fill="#b40008" d="M621.2,220.0 630.0,217.5 637.5,216.2 636.2,220.0 627.5,222.5 622.5,223.8Z"/>
<path id="latvia" fill="#7c0103" d="M612.5,246.2 614.1,243.3 615.4,240.2 617.3,237.4 620.6,236.1 623.5,234.4 626.3,232.5 629.9,234.6 633.7,236.4 637.2,238.4 640.0,241.2 643.8,244.5 646.9,243.4 650.0,242.6 652.5,239.6 654.5,236.2 655.0,232.5 655.7,228.8 659.0,228.4 662.5,228.7 666.2,227.6 670.0,227.3 673.3,228.5 676.7,228.8 680.0,229.8 683.4,230.7 686.6,232.1 690.0,232.4 693.6,234.2 697.5,235.0 699.1,238.9 701.4,242.4 703.6,246.0 704.8,250.1 705.9,253.3 707.5,256.3 705.0,258.8 702.4,261.2 698.8,263.2 695.0,265.1 691.3,265.8 687.5,266.5 683.8,264.3 680.0,262.4 676.1,260.9 672.4,258.9 668.1,257.6 663.7,256.4 659.4,257.0 655.0,257.3 651.6,257.2 648.3,256.7 645.0,256.2 641.6,256.3 638.3,255.3 635.0,254.9 631.7,255.7 628.3,255.5 625.0,256.1 621.5,256.6 618.5,258.4 615.0,258.9 613.6,255.6 611.9,252.6Z"/>
<path class="b" d="M655.7,228.8 659.0,228.4 662.5,228.7 666.2,227.6 670.0,227.3 673.3,228.5 676.7,228.8 680.0,229.8 683.4,230.7 686.6,232.1 690.0,232.4 693.6,234.2 697.5,235.0 699.1,238.9 701.4,242.4 703.6,246.0 704.8,250.1 705.9,253.3 707.5,256.3 705.0,258.8 702.4,261.2 698.8,263.2 695.0,265.1"/>
<path id="lithuania" fill="#7c0103" d="M612.5,261.2 615.0,258.7 618.2,257.5 621.6,257.0 625.0,256.1 628.3,255.9 631.7,255.8 635.0,255.1 638.3,255.9 641.6,256.3 645.0,256.3 648.4,256.1 651.7,257.1 655.0,257.3 659.3,256.5 663.7,256.1 668.1,257.6 672.5,258.7 676.2,260.8 679.9,262.6 683.6,264.7 687.4,266.4 689.1,269.2 690.0,272.5 686.2,277.5 682.4,282.4 681.7,286.4 679.9,290.0 675.0,293.7 671.3,294.8 667.5,295.0 663.8,295.8 660.0,296.2 656.1,295.4 652.5,293.7 649.5,292.2 646.2,291.3 643.2,289.2 639.9,287.6 638.5,284.5 637.5,281.3 633.7,280.3 630.0,278.9 626.3,278.1 622.5,277.6 618.8,276.1 614.9,275.2 614.4,271.2 613.8,267.5Z"/>
<path class="b" d="M615.0,258.7 618.2,257.5 621.6,257.0 625.0,256.1 628.3,255.9 631.7,255.8 635.0,255.1 638.3,255.9 641.6,256.3 645.0,256.3 648.4,256.1 651.7,257.1 655.0,257.3 659.3,256.5 663.7,256.1 668.1,257.6 672.5,258.7 676.2,260.8 679.9,262.6 683.6,264.7 687.4,266.4M646.2,291.3 643.2,289.2 639.9,287.6 638.5,284.5 637.5,281.3 633.7,280.3 630.0,278.9 626.3,278.1 622.5,277.6 618.8,276.1 614.9,275.2"/>
<path id="belarus" fill="#e52e3c" d="M687.5,266.2 691.2,265.4 695.0,264.8 698.6,262.9 702.5,261.3 706.7,261.3 710.8,260.0 715.0,260.1 718.3,261.0 721.7,261.4 725.0,262.5 728.8,264.3 732.6,266.1 735.7,267.9 739.3,268.4 742.5,269.9 744.6,274.0 747.3,277.6 748.2,281.4 750.0,285.0 752.4,287.6 755.4,289.6 757.6,292.4 761.2,295.1 764.9,297.6 768.6,300.2 772.5,302.4 774.8,305.2 777.4,307.6 775.4,310.4 772.6,312.6 768.7,313.7 765.0,315.0 761.3,320.1 763.0,323.8 765.1,327.4 766.4,331.2 761.9,331.9 757.5,332.6 754.7,336.1 752.3,339.9 748.7,340.4 745.0,341.1 741.7,340.7 738.4,339.9 735.0,339.8 731.6,340.1 728.4,341.1 725.0,341.3 721.6,341.3 718.3,340.9 715.0,340.1 711.6,340.0 708.4,338.9 705.0,338.6 701.7,337.9 698.4,337.4 695.0,337.6 691.7,336.6 688.3,336.6 685.0,336.2 681.7,335.9 678.4,335.0 675.0,334.9 671.7,334.8 668.3,335.2 665.0,335.2 661.2,336.0 657.5,337.4 653.8,332.5 651.8,328.8 650.2,324.9 652.4,321.2 654.9,317.4 653.7,313.8 652.6,310.0 651.1,306.3 650.0,302.5 648.7,298.8 647.4,295.0 652.5,293.6 656.4,294.6 659.9,296.4 663.8,296.1 667.5,295.0 671.2,294.0 675.0,293.6 680.1,290.2 681.3,286.3 682.3,282.4 686.2,277.5 690.0,272.5 688.6,269.4Z"/>
<path class="b" d="M687.5,266.2 691.2,265.4 695.0,264.8 698.6,262.9 702.5,261.3 706.7,261.3 710.8,260.0 715.0,260.1 718.3,261.0 721.7,261.4 725.0,262.5 728.8,264.3 732.6,266.1 735.7,267.9 739.3,268.4 742.5,269.9 744.6,274.0 747.3,277.6 748.2,281.4 750.0,285.0 752.4,287.6 755.4,289.6 757.6,292.4 761.2,295.1 764.9,297.6 768.6,300.2 772.5,302.4 774.8,305.2 777.4,307.6 775.4,310.4 772.6,312.6 768.7,313.7 765.0,315.0 761.3,320.1 763.0,323.8 765.1,327.4 766.4,331.2 761.9,331.9 757.5,332.6 754.7,336.1 752.3,339.9 748.7,340.4 745.0,341.1 741.7,340.7 738.4,339.9 735.0,339.8 731.6,340.1 728.4,341.1 725.0,341.3 721.6,341.3 718.3,340.9 715.0,340.1 711.6,340.0 708.4,338.9 705.0,338.6 701.7,337.9 698.4,337.4 695.0,337.6 691.7,336.6 688.3,336.6 685.0,336.2 681.7,335.9 678.4,335.0 675.0,334.9 671.7,334.8 668.3,335.2 665.0,335.2 661.2,336.0 657.5,337.4 653.8,332.5 651.8,328.8 650.2,324.9 652.4,321.2 654.9,317.4 653.7,313.8 652.6,310.0 651.1,306.3 650.0,302.5 648.7,298.8 647.4,295.0 652.5,293.6 656.4,294.6 659.9,296.4 663.8,296.1 667.5,295.0 671.2,294.0 675.0,293.6 680.1,290.2 681.3,286.3 682.3,282.4 686.2,277.5 690.0,272.5 688.6,269.4 687.5,266.2"/>
<path id="crimea" fill="#7c0103" d="M794.2,451.9 797.1,450.1 799.3,447.4 803.1,446.1 806.7,444.3 809.7,440.8 810.9,436.3 815.1,435.9 819.4,436.3 819.9,440.8 821.9,443.8 824.5,446.1 828.9,450.5 832.0,454.2 837.9,454.0 842.3,452.6 846.1,452.8 849.8,451.8 852.1,455.6 849.8,458.6 846.1,458.7 842.4,458.4 836.4,457.9 832.1,461.0 828.5,463.4 824.6,465.3 820.8,467.1 817.2,469.2 813.4,469.2 809.7,469.7 808.3,465.3 807.0,462.2 805.4,459.3 800.9,454.8 797.6,453.2Z"/>
<path id="moldova" fill="#b40008" d="M707.5,400.0 711.2,399.0 715.0,398.7 718.8,398.4 722.5,398.9 726.0,399.6 729.3,400.9 732.5,402.4 734.8,405.2 737.8,407.2 739.9,410.1 742.9,413.5 744.9,417.5 747.3,421.4 750.0,425.0 752.2,428.6 753.8,432.5 747.5,432.6 745.0,435.0 742.5,437.5 740.1,441.0 738.7,445.0 735.8,447.7 732.6,450.1 730.2,446.4 728.7,442.5 728.8,439.1 727.7,435.9 727.5,432.5 725.7,429.4 724.9,425.9 723.7,422.5 721.2,419.4 719.6,415.8 717.5,412.5 715.3,410.1 713.7,407.2 711.4,404.9Z"/>
<path class="b" d="M707.5,400.0 711.2,399.0 715.0,398.7 718.8,398.4 722.5,398.9 726.0,399.6 729.3,400.9 732.5,402.4 734.8,405.2 737.8,407.2 739.9,410.1 742.9,413.5 744.9,417.5 747.3,421.4 750.0,425.0 752.2,428.6 753.8,432.5 747.5,432.6 745.0,435.0 742.5,437.5 740.1,441.0 738.7,445.0 735.8,447.7 732.6,450.1 730.2,446.4 728.7,442.5 728.8,439.1 727.7,435.9 727.5,432.5 725.7,429.4 724.9,425.9 723.7,422.5 721.2,419.4 719.6,415.8 717.5,412.5 715.3,410.1 713.7,407.2 711.4,404.9 707.5,400.0"/>
<path id="denmark" fill="#137513" d="M436.8,260.9 437.6,257.5 437.1,254.0 438.1,250.7 440.1,244.9 444.2,244.0 448.2,242.9 451.6,240.5 455.0,238.1 457.5,236.1 459.4,233.5 463.5,233.5 467.5,233.1 468.1,236.1 468.0,239.3 467.1,243.4 465.4,247.3 467.7,250.5 470.9,253.0 473.0,257.6 469.6,261.9 466.3,265.4 467.4,271.1 469.7,276.8 472.0,281.4 466.4,280.0 462.9,279.7 459.5,279.1 456.1,278.8 452.8,277.8 449.4,277.0 445.9,276.6 443.8,273.9 441.3,271.2 438.0,266.6Z"/>
<path id="funen" fill="#137513" d="M462.3,268.2 469.8,266.6 474.3,271.1 473.2,278.0 467.5,280.2 463.2,275.7Z"/>
<path id="zealand" fill="#137513" d="M476.6,267.7 483.4,264.3 491.4,262.0 497.0,265.5 498.2,272.3 494.8,278.0 491.4,280.2 492.5,284.8 485.7,285.9 481.1,281.4 477.7,275.7Z"/>
<path id="lolland" fill="#137513" d="M475.5,283.2 482.3,284.1 488.0,287.5 480.0,287.7Z"/>
<path id="bornholm" fill="#137513" d="M526.2,276.2 530.0,275.5 530.8,278.8 527.5,279.5Z"/>
<path id="neth" fill="#137513" d="M370.3,343.4 372.4,338.8 376.0,337.4 379.9,334.0 382.7,329.3 385.3,323.4 387.3,318.8 389.9,313.9 393.8,312.7 397.5,311.1 400.8,310.2 404.1,308.9 407.5,308.1 411.9,307.4 416.3,307.1 420.0,310.0 420.4,315.0 418.4,319.6 415.8,322.6 418.7,326.3 415.7,331.1 411.9,333.8 408.2,334.9 405.4,336.9 406.3,340.6 405.2,344.4 404.2,348.1 404.2,351.0 402.5,348.6 398.7,347.8 395.0,345.1 392.2,342.8 388.3,343.4 383.6,342.7 379.8,344.4 375.9,346.5 371.2,346.0Z"/>
<path class="b" d="M420.0,310.0 420.4,315.0 418.4,319.6 415.8,322.6 418.7,326.3 415.7,331.1 411.9,333.8 408.2,334.9 405.4,336.9 406.3,340.6 405.2,344.4 404.2,348.1 404.2,351.0"/>
<path id="belgium" fill="#137513" d="M356.6,348.6 357.9,347.6 361.8,346.3 366.5,345.5 371.2,346.0 376.0,346.7 379.9,344.6 383.5,342.7 388.3,343.2 392.1,343.0 394.9,345.2 398.8,347.5 402.5,348.6 404.3,351.1 401.5,352.3 400.4,354.2 402.5,356.2 406.3,356.5 408.3,359.0 409.1,362.3 406.3,365.2 403.5,367.8 401.7,370.0 402.1,373.7 401.6,377.0 397.8,376.7 392.9,374.8 389.3,370.8 387.4,367.1 383.7,369.7 379.8,368.5 376.9,364.7 372.2,362.8 368.3,360.1 363.6,357.2 359.0,354.6 357.3,351.9Z"/>
<path class="b" d="M371.2,346.0 376.0,346.7 379.9,344.6 383.5,342.7 388.3,343.2 392.1,343.0 394.9,345.2 398.8,347.5 402.5,348.6 404.3,351.1 401.5,352.3 400.4,354.2 402.5,356.2 406.3,356.5 408.3,359.0 409.1,362.3 406.3,365.2 403.5,367.8"/>
<path id="lux" fill="#16371a" d="M403.4,369.0 406.3,368.0 409.1,370.9 410.1,373.7 408.2,376.6 405.3,377.4 402.5,375.0Z"/>
<path id="france" fill="#137513" d="M345.0,353.8 348.5,351.4 352.4,349.9 356.5,348.4 357.9,351.7 359.1,354.7 363.6,357.3 368.3,360.2 372.2,362.9 376.8,364.8 379.7,368.6 383.6,369.7 387.2,367.0 389.3,370.9 393.1,374.6 397.7,376.7 401.6,377.0 406.3,378.5 410.9,380.5 414.8,383.2 420.5,384.6 426.2,385.2 432.0,386.8 434.8,389.7 432.8,393.9 430.7,396.8 429.0,400.0 426.5,403.9 427.4,407.6 427.0,413.6 423.0,416.1 418.5,417.0 416.2,420.0 412.5,425.1 408.5,430.0 404.6,434.9 402.8,439.9 405.5,438.0 408.1,436.1 412.4,433.9 416.0,435.1 418.6,440.0 416.2,445.5 417.7,449.2 414.8,453.1 412.3,457.6 413.4,459.9 414.0,465.0 415.7,468.7 417.4,472.6 420.5,475.1 423.7,477.5 422.8,481.3 421.3,485.0 417.9,487.2 414.9,489.9 411.1,490.9 407.5,492.5 404.1,491.9 401.0,490.3 397.5,489.9 394.0,489.1 390.7,488.0 387.5,486.2 384.1,486.3 380.9,485.0 377.5,484.9 374.2,486.8 370.7,488.0 367.5,490.0 364.6,492.1 362.7,495.2 360.0,497.5 358.4,501.1 357.4,505.0 357.3,506.2 354.2,506.6 350.9,507.3 347.5,507.6 343.7,506.4 340.0,505.1 336.4,503.4 332.5,502.6 329.2,501.5 325.9,500.7 322.5,500.0 319.2,499.1 315.9,498.1 312.5,497.6 309.1,497.1 306.0,495.3 302.5,495.1 299.2,494.2 295.9,493.9 292.5,493.7 288.7,490.0 290.4,486.8 291.3,483.4 292.4,480.0 293.8,475.9 294.1,471.6 294.8,467.5 295.8,463.4 296.0,459.2 296.1,455.0 296.0,450.8 295.7,446.6 295.0,442.5 292.1,439.0 290.0,435.0 287.4,431.3 285.1,427.5 282.1,424.0 280.0,420.0 277.8,417.2 274.9,415.1 271.1,412.8 267.6,409.9 264.2,408.8 261.0,407.0 257.4,406.4 253.7,404.5 250.0,402.6 248.5,396.3 253.3,395.5 257.6,394.0 260.8,392.8 264.3,392.5 267.5,391.3 270.9,391.0 274.2,391.0 277.5,390.2 281.0,390.3 284.1,391.8 287.5,392.5 291.2,390.6 295.1,388.9 293.3,384.5 292.6,380.0 291.4,375.0 295.0,374.6 298.8,374.8 300.2,379.9 303.3,379.7 306.7,379.9 310.0,380.2 313.4,379.3 316.6,378.2 320.0,377.6 322.6,375.1 324.9,372.4 328.5,371.1 331.5,368.9 335.0,367.5 337.2,363.5 340.0,360.0 342.3,356.7Z"/>
<path class="b" d="M356.5,348.4 357.9,351.7 359.1,354.7 363.6,357.3 368.3,360.2 372.2,362.9 376.8,364.8 379.7,368.6 383.6,369.7 387.2,367.0 389.3,370.9 393.1,374.6 397.7,376.7 401.6,377.0 406.3,378.5 410.9,380.5 414.8,383.2 420.5,384.6 426.2,385.2 432.0,386.8 434.8,389.7 432.8,393.9 430.7,396.8 429.0,400.0 426.5,403.9 427.4,407.6 427.0,413.6 423.0,416.1M418.6,440.0 416.2,445.5 417.7,449.2 414.8,453.1 412.3,457.6 413.4,459.9 414.0,465.0 415.7,468.7 417.4,472.6 420.5,475.1 423.7,477.5 422.8,481.3"/>
<path id="corsica" fill="#137513" d="M441.2,507.5 446.2,502.5 451.2,496.2 454.5,497.5 455.0,506.2 453.8,515.0 451.2,522.5 448.8,526.2 443.8,522.5 441.2,515.0Z"/>
<path id="swiss" fill="#1c491d" d="M402.6,438.6 404.8,433.3 408.7,428.9 410.1,425.9 412.2,423.4 416.1,418.8 418.6,415.2 423.0,415.2 426.8,413.7 431.4,413.3 435.9,412.9 440.5,412.4 443.5,411.5 448.0,412.2 452.7,413.1 455.7,415.8 457.9,417.4 461.0,416.1 463.3,418.8 465.5,422.0 467.2,424.9 466.3,428.0 463.3,429.6 461.8,432.7 458.6,433.5 455.6,432.6 453.3,431.8 451.2,434.9 448.1,438.7 446.4,440.1 444.1,437.2 441.1,434.2 438.9,431.8 436.7,434.1 433.7,437.2 430.5,440.1 426.8,441.2 423.0,441.6 419.2,440.9 417.6,437.9 415.4,435.7 412.4,435.7 408.5,436.9 405.6,439.0Z"/>
<path class="b" d="M402.6,438.6 404.8,433.3 408.7,428.9 410.1,425.9 412.2,423.4 416.1,418.8 418.6,415.2 423.0,415.2 426.8,413.7 431.4,413.3 435.9,412.9 440.5,412.4 443.5,411.5 448.0,412.2 452.7,413.1 455.7,415.8 457.9,417.4 461.0,416.1 463.3,418.8 465.5,422.0 467.2,424.9 466.3,428.0 463.3,429.6 461.8,432.7 458.6,433.5 455.6,432.6 453.3,431.8 451.2,434.9 448.1,438.7 446.4,440.1 444.1,437.2 441.1,434.2 438.9,431.8 436.7,434.1 433.7,437.2 430.5,440.1 426.8,441.2 423.0,441.6 419.2,440.9 417.6,437.9 415.4,435.7 412.4,435.7 408.5,436.9 405.6,439.0 402.6,438.6"/>
<path id="austria" fill="#137513" d="M467.3,419.6 470.1,415.3 473.9,416.4 477.7,417.2 482.5,415.3 487.3,413.6 492.9,412.1 498.6,411.6 503.3,411.5 505.0,409.1 503.8,405.4 504.9,402.2 508.1,399.8 511.9,397.5 514.2,395.1 517.1,393.5 522.4,394.1 527.0,393.4 529.9,391.9 533.0,390.5 534.5,388.2 540.6,389.9 544.4,390.4 548.2,391.1 552.0,391.4 555.8,391.8 559.9,393.7 561.2,395.6 562.1,400.2 563.1,404.5 562.0,407.6 560.0,410.3 557.1,415.0 556.0,420.6 554.9,421.5 553.5,422.4 550.5,425.2 545.8,427.0 540.2,427.7 535.5,427.9 530.9,430.2 525.1,430.8 519.4,431.6 513.7,431.4 508.0,430.6 502.3,428.7 497.7,426.6 494.8,424.4 493.0,421.9 487.2,421.7 482.5,422.4 477.6,424.3 473.9,424.6 469.1,423.6Z"/>
<path class="b" d="M513.7,431.4 508.0,430.6 502.3,428.7 497.7,426.6 494.8,424.4 493.0,421.9 487.2,421.7 482.5,422.4 477.6,424.3 473.9,424.6 469.1,423.6 467.3,419.6 470.1,415.3 473.9,416.4 477.7,417.2 482.5,415.3 487.3,413.6 492.9,412.1 498.6,411.6 503.3,411.5 505.0,409.1 503.8,405.4 504.9,402.2 508.1,399.8 511.9,397.5 514.2,395.1 517.1,393.5"/>
<path id="czech" fill="#a0db9c" d="M492.8,364.1 496.2,363.0 499.4,361.5 502.4,359.7 505.6,358.5 508.6,356.8 511.7,355.5 514.6,353.8 517.8,352.9 521.5,351.5 525.3,350.2 530.9,350.9 534.6,355.7 537.6,357.5 541.0,358.6 544.1,359.7 547.5,359.6 550.6,360.6 553.8,361.2 557.7,366.0 561.4,363.3 566.1,364.0 570.8,366.1 574.5,369.0 579.4,370.5 584.2,372.5 588.0,375.9 584.5,377.4 581.2,378.8 577.4,383.0 575.5,386.8 572.5,389.0 568.9,390.2 565.5,390.9 562.3,392.2 560.0,393.6 555.8,392.1 552.0,391.1 548.2,391.4 544.3,390.9 540.6,389.8 534.5,388.3 532.9,390.4 530.2,392.4 527.0,393.5 522.4,394.1 517.1,393.5 513.4,389.6 510.6,387.5 508.0,385.2 505.7,382.5 502.6,380.7 500.4,378.0 498.2,375.3 496.3,372.4 495.2,369.2 492.3,363.8Z"/>
<path class="b" d="M560.0,393.6 555.8,392.1 552.0,391.1 548.2,391.4 544.3,390.9 540.6,389.8 534.5,388.3 532.9,390.4 530.2,392.4 527.0,393.5 522.4,394.1 517.1,393.5 513.4,389.6 510.6,387.5 508.0,385.2 505.7,382.5 502.6,380.7 500.4,378.0 498.2,375.3 496.3,372.4 495.2,369.2 492.3,363.8 492.8,364.1 496.2,363.0 499.4,361.5 502.4,359.7 505.6,358.5 508.6,356.8 511.7,355.5 514.6,353.8 517.8,352.9 521.5,351.5 525.3,350.2 530.9,350.9 534.6,355.7 537.6,357.5 541.0,358.6 544.1,359.7 547.5,359.6 550.6,360.6 553.8,361.2 557.7,366.0 561.4,363.3 566.1,364.0 570.8,366.1 574.5,369.0 579.4,370.5 584.2,372.5 588.0,375.9"/>
<path id="slovakia" fill="#a0db9c" d="M587.9,376.0 591.7,377.5 595.5,376.3 599.2,377.4 602.9,380.4 606.8,381.1 611.6,379.8 616.3,380.3 622.0,379.4 627.7,379.2 632.4,380.5 637.1,382.8 640.9,383.2 643.7,381.5 643.8,386.0 641.0,390.8 639.1,394.6 638.3,396.5 635.3,397.5 630.5,398.4 625.8,397.4 620.1,396.8 614.4,397.2 610.6,400.2 606.8,403.0 601.1,404.2 595.5,403.8 590.8,406.1 587.8,408.6 584.5,408.8 581.3,409.8 577.9,410.2 574.6,409.9 568.9,407.7 565.9,406.5 563.3,404.3 562.3,400.2 561.2,395.5 562.2,392.1 565.6,391.0 568.9,390.2 572.0,388.1 575.6,387.0 577.6,383.2 581.2,378.9 584.4,377.0Z"/>
<path class="b" d="M563.3,404.3 562.3,400.2 561.2,395.5 562.2,392.1 565.6,391.0 568.9,390.2 572.0,388.1 575.6,387.0 577.6,383.2 581.2,378.9 584.4,377.0 587.9,376.0 591.7,377.5 595.5,376.3 599.2,377.4 602.9,380.4 606.8,381.1 611.6,379.8 616.3,380.3 622.0,379.4 627.7,379.2 632.4,380.5 637.1,382.8 640.9,383.2 643.7,381.5 643.8,386.0 641.0,390.8 639.1,394.6"/>
<path id="hungary" fill="#e52e3c" d="M563.2,404.5 566.2,405.9 568.8,407.9 574.6,409.6 577.9,409.5 581.2,409.8 584.5,409.0 587.9,408.8 590.8,406.0 595.5,403.9 601.1,404.1 606.8,403.1 610.6,400.3 614.5,397.4 620.1,396.9 625.8,397.2 630.5,398.5 635.2,397.5 638.1,396.3 641.7,398.4 644.7,401.1 648.1,404.4 644.0,407.0 640.0,408.4 638.6,410.3 635.6,413.9 633.8,418.7 631.9,423.4 628.9,428.0 626.2,431.9 622.3,434.7 617.8,437.8 614.0,440.1 610.1,440.8 604.4,441.9 598.7,442.1 593.0,443.2 587.4,445.4 581.7,445.9 576.0,444.2 570.4,442.1 565.5,439.6 561.8,435.7 558.0,431.9 555.1,429.2 554.4,425.2 556.0,420.6 556.9,414.9 559.8,410.1 561.3,407.2Z"/>
<path class="b" d="M554.4,425.2 556.0,420.6 556.9,414.9 559.8,410.1 561.3,407.2 563.2,404.5 566.2,405.9 568.8,407.9 574.6,409.6 577.9,409.5 581.2,409.8 584.5,409.0 587.9,408.8 590.8,406.0 595.5,403.9 601.1,404.1 606.8,403.1 610.6,400.3 614.5,397.4 620.1,396.9 625.8,397.2 630.5,398.5 635.2,397.5 638.1,396.3 641.7,398.4 644.7,401.1 648.1,404.4 644.0,407.0 640.0,408.4 638.6,410.3 635.6,413.9 633.8,418.7 631.9,423.4 628.9,428.0 626.2,431.9 622.3,434.7 617.8,437.8 614.0,440.1"/>
<path id="slovenia" fill="#a0db9c" d="M511.8,432.9 513.7,431.5 519.4,431.5 525.1,431.1 530.8,430.0 535.6,428.3 540.2,427.9 545.9,427.0 550.5,425.1 554.2,426.0 555.2,429.1 555.2,432.9 551.5,434.6 548.8,436.8 545.9,438.6 543.1,441.4 540.1,445.1 537.5,448.1 532.7,449.8 527.0,450.8 521.3,450.8 515.6,451.0 516.5,448.0 515.7,444.2 514.6,440.5 512.8,436.7Z"/>
<path class="b" d="M515.6,451.0 516.5,448.0 515.7,444.2 514.6,440.5 512.8,436.7 511.8,432.9 513.7,431.5 519.4,431.5 525.1,431.1 530.8,430.0 535.6,428.3 540.2,427.9 545.9,427.0 550.5,425.1 554.2,426.0 555.2,429.1 555.2,432.9"/>
<path id="sicily" fill="#a0db9c" d="M499.2,592.0 503.7,588.5 507.1,587.5 510.7,586.8 514.2,586.7 517.7,587.7 521.3,587.9 524.8,588.5 528.4,588.4 531.9,587.4 535.6,587.0 539.0,585.8 542.5,584.8 546.0,583.9 547.8,586.6 546.3,589.5 544.1,591.9 542.8,595.5 541.6,599.0 542.4,602.5 542.5,606.0 540.5,611.3 535.4,612.3 530.1,608.7 526.5,606.6 523.0,604.3 519.6,602.4 516.0,600.9 512.4,599.6 508.9,598.2 505.7,597.5 502.6,596.6Z"/>
<path id="sardinia" fill="#a0db9c" d="M435.0,540.0 437.6,537.6 440.0,535.0 443.9,532.7 447.5,530.1 451.1,531.7 455.0,532.5 456.2,536.3 457.6,540.0 457.1,543.3 456.9,546.7 456.4,550.0 457.0,553.3 457.1,556.7 457.6,560.0 455.5,563.7 453.6,567.4 450.1,569.2 446.3,570.1 440.0,568.8 438.7,564.4 437.4,560.0 437.8,556.6 438.1,553.3 438.6,550.0 437.2,546.8 436.7,543.2Z"/>
<path id="croatia" fill="#9b0007" d="M513.9,453.4 517.1,452.6 520.4,452.5 524.1,452.4 527.8,452.3 531.4,451.1 535.2,450.4 540.8,447.8 543.4,442.2 546.4,437.7 552.0,435.0 555.6,434.0 559.3,437.6 564.9,440.3 570.5,443.1 574.3,443.7 577.8,445.1 581.6,444.9 585.3,444.3 589.0,443.7 592.7,443.2 593.5,447.8 595.7,452.4 597.3,456.1 594.6,458.1 588.9,457.3 585.3,456.6 581.5,456.4 577.8,456.4 574.1,456.1 570.4,456.5 566.7,456.1 563.0,455.5 559.3,455.4 553.8,455.3 548.2,456.1 545.4,458.0 547.2,462.7 549.4,465.3 550.8,468.3 552.7,471.5 554.8,474.6 557.9,477.9 561.2,481.1 564.2,483.7 566.7,486.8 569.8,489.2 572.4,492.2 575.4,494.3 577.9,496.9 580.5,499.0 583.3,500.8 587.1,502.5 586.3,505.3 581.5,503.5 578.1,501.1 574.1,499.9 570.5,497.3 566.8,495.0 562.8,493.1 559.3,490.5 556.8,487.8 553.8,485.7 551.0,483.4 548.3,481.0 545.0,478.3 542.6,474.7 539.7,471.6 537.0,468.3 534.6,465.1 532.5,461.7 529.8,457.0 527.8,455.3 526.1,457.2 522.3,461.8 518.5,463.4 515.6,458.1Z"/>
<path class="b" d="M517.1,452.6 520.4,452.5 524.1,452.4 527.8,452.3 531.4,451.1 535.2,450.4 540.8,447.8 543.4,442.2 546.4,437.7 552.0,435.0 555.6,434.0 559.3,437.6 564.9,440.3 570.5,443.1 574.3,443.7 577.8,445.1 581.6,444.9 585.3,444.3 589.0,443.7 592.7,443.2"/>
<path id="bosnia" fill="#7c0103" d="M545.4,458.0 548.1,456.0 553.8,455.4 559.3,455.0 563.0,455.9 566.7,456.2 570.4,456.1 574.1,456.3 577.8,456.0 581.6,456.2 585.2,456.9 589.0,457.0 594.5,458.2 597.5,461.6 596.5,466.4 598.3,471.9 600.0,477.5 600.8,482.1 596.4,484.9 592.8,487.8 590.8,493.2 588.8,497.8 587.1,502.5 583.5,500.5 580.7,498.6 577.8,496.9 574.9,494.7 572.4,492.2 569.3,489.7 566.8,486.6 563.6,484.3 561.2,481.1 558.0,477.8 554.7,474.6 552.5,471.6 550.9,468.3 548.7,465.7 547.1,462.7Z"/>
<path class="b" d="M587.1,502.5 583.5,500.5 580.7,498.6 577.8,496.9 574.9,494.7 572.4,492.2 569.3,489.7 566.8,486.6 563.6,484.3 561.2,481.1 558.0,477.8 554.7,474.6 552.5,471.6 550.9,468.3 548.7,465.7 547.1,462.7 545.4,458.0 548.1,456.0 553.8,455.4 559.3,455.0 563.0,455.9 566.7,456.2 570.4,456.1 574.1,456.3 577.8,456.0 581.6,456.2 585.2,456.9 589.0,457.0 594.5,458.2"/>
<path id="serbia" fill="#b40008" d="M592.7,443.2 596.5,442.8 600.1,441.2 603.8,440.9 607.5,440.2 613.1,439.4 616.9,443.1 618.9,445.7 620.3,448.8 623.2,451.6 626.0,454.3 628.2,456.9 629.6,460.0 631.6,464.5 634.7,466.3 638.0,467.4 641.3,468.4 644.5,469.3 648.3,473.7 647.6,479.3 650.3,482.9 648.1,487.6 650.9,492.4 648.1,497.8 647.8,501.1 647.3,504.3 644.1,504.5 640.9,505.4 635.3,502.5 632.3,500.5 629.8,497.8 627.6,494.9 625.1,492.3 621.9,494.1 618.6,495.9 614.0,497.8 611.3,494.1 605.7,491.2 603.6,488.8 601.1,486.7 601.0,482.1 600.0,477.5 598.3,471.9 596.3,466.4 597.3,461.7 594.4,458.1 597.3,456.1 595.5,452.4 593.5,447.9Z"/>
<path class="b" d="M601.0,482.1 600.0,477.5 598.3,471.9 596.3,466.4 597.3,461.7 594.4,458.1 597.3,456.1 595.5,452.4 593.5,447.9 592.7,443.2 596.5,442.8 600.1,441.2 603.8,440.9 607.5,440.2 613.1,439.4 616.9,443.1 618.9,445.7 620.3,448.8 623.2,451.6 626.0,454.3 628.2,456.9 629.6,460.0 631.6,464.5 634.7,466.3 638.0,467.4 641.3,468.4 644.5,469.3 648.3,473.7"/>
<path id="montenegro" fill="#a0db9c" d="M587.1,502.5 589.1,497.9 591.0,493.3 592.7,487.7 596.3,484.8 601.1,482.2 600.8,486.7 603.0,489.4 605.6,491.4 611.1,494.3 613.9,498.0 613.2,502.5 609.3,505.2 605.6,507.1 604.7,512.7 600.1,510.9 597.0,509.4 594.5,507.2 590.8,504.3Z"/>
<path class="b" d="M587.1,502.5 589.1,497.9 591.0,493.3 592.7,487.7 596.3,484.8 601.1,482.2 600.8,486.7 603.0,489.4 605.6,491.4 611.1,494.3 613.9,498.0"/>
<path id="kosovo" fill="#e52e3c" d="M614.0,497.8 618.6,496.0 621.8,494.1 625.0,492.2 627.2,495.3 629.8,497.8 632.4,500.3 635.4,502.4 637.0,507.2 633.5,509.1 627.9,510.8 622.4,512.8 618.6,509.0 614.8,504.4 613.0,502.6Z"/>
<path class="b" d="M613.0,502.6 614.0,497.8 618.6,496.0 621.8,494.1 625.0,492.2 627.2,495.3 629.8,497.8 632.4,500.3 635.4,502.4 637.0,507.2"/>
<path id="albania" fill="#b40008" d="M604.7,507.1 609.3,505.2 613.1,502.5 615.1,504.2 618.7,509.0 619.7,514.5 619.3,517.8 618.5,521.0 619.8,524.2 620.6,527.5 623.2,533.1 627.1,537.6 626.1,542.3 622.2,545.9 620.7,551.7 615.8,555.2 613.4,552.6 611.2,549.8 606.6,547.8 604.5,545.3 602.7,542.5 602.9,538.6 603.7,534.9 604.1,531.2 603.6,527.5 603.6,523.8 602.7,520.1 603.0,516.3 604.0,512.7Z"/>
<path class="b" d="M627.1,537.6 626.1,542.3 622.2,545.9 620.7,551.7M604.0,512.7 604.7,507.1 609.3,505.2 613.1,502.5 615.1,504.2 618.7,509.0 619.7,514.5"/>
<path id="macedonia" fill="#a0db9c" d="M622.3,512.7 627.9,510.7 633.4,508.8 637.2,507.2 640.9,505.4 644.0,504.3 647.4,504.4 649.7,506.6 651.8,509.1 654.0,512.6 655.8,516.3 655.1,520.1 654.9,523.8 650.0,527.3 644.5,530.2 639.0,531.3 633.4,532.9 627.9,535.0 623.3,532.9 620.5,527.5 619.1,524.4 618.8,521.0 619.3,517.8 619.4,514.5Z"/>
<path class="b" d="M654.9,523.8 650.0,527.3 644.5,530.2 639.0,531.3 633.4,532.9 627.9,535.0 623.3,532.9 620.5,527.5 619.1,524.4 618.8,521.0 619.3,517.8 619.4,514.5 622.3,512.7 627.9,510.7 633.4,508.8 637.2,507.2 640.9,505.4 644.0,504.3 647.4,504.4"/>
<path id="bulgaria" fill="#7c0103" d="M647.4,479.3 650.6,480.4 653.9,481.0 659.4,482.9 663.1,482.7 666.8,483.1 670.5,483.9 674.2,484.0 675.0,483.9 678.3,484.6 681.6,484.9 685.0,485.0 688.2,483.7 691.7,483.7 695.0,482.4 698.5,480.2 702.6,478.9 705.8,478.9 709.2,478.3 712.5,478.8 715.8,479.8 719.1,480.6 722.5,481.2 725.8,482.3 729.2,482.8 732.5,483.9 737.5,485.1 736.6,488.2 734.9,491.2 732.1,494.1 729.9,497.4 728.9,501.3 727.6,505.0 728.7,508.1 729.9,511.3 726.4,513.0 722.5,513.9 718.8,514.8 715.0,515.2 711.1,515.8 707.5,517.6 704.6,520.3 702.3,523.6 699.2,524.2 695.9,524.9 692.5,524.8 689.2,524.1 685.8,524.1 682.5,523.6 679.2,523.4 675.8,524.2 672.5,523.9 669.1,523.9 665.8,524.6 662.5,525.0 657.5,524.0 656.4,520.1 655.9,516.3 653.9,512.7 652.1,508.9 649.5,506.8 647.4,504.3 648.1,501.1 648.4,497.9 650.9,492.2 648.3,487.6 650.1,483.0Z"/>
<path class="b" d="M702.3,523.6 699.2,524.2 695.9,524.9 692.5,524.8 689.2,524.1 685.8,524.1 682.5,523.6 679.2,523.4 675.8,524.2 672.5,523.9 669.1,523.9 665.8,524.6 662.5,525.0 657.5,524.0 656.4,520.1 655.9,516.3 653.9,512.7 652.1,508.9 649.5,506.8 647.4,504.3 648.1,501.1 648.4,497.9 650.9,492.2 648.3,487.6 650.1,483.0 647.4,479.3 650.6,480.4 653.9,481.0 659.4,482.9 663.1,482.7 666.8,483.1 670.5,483.9 674.2,484.0 675.0,483.9 678.3,484.6 681.6,484.9 685.0,485.0 688.2,483.7 691.7,483.7 695.0,482.4 698.5,480.2 702.6,478.9 705.8,478.9 709.2,478.3 712.5,478.8 715.8,479.8 719.1,480.6 722.5,481.2 725.8,482.3 729.2,482.8 732.5,483.9 737.5,485.1"/>
<path id="crete" fill="#a0db9c" d="M672.5,635.2 680.0,634.0 690.0,636.5 700.0,637.8 710.0,639.0 713.8,641.5 707.5,644.0 697.5,645.2 687.5,642.8 677.5,640.2Z"/>
<path id="cyprus" fill="#1c491d" d="M808.4,644.7 812.9,640.9 816.7,639.3 820.5,637.9 824.2,637.0 828.0,637.0 831.6,636.0 835.0,634.6 838.5,633.4 841.7,631.6 840.0,636.4 837.1,638.3 835.1,641.1 834.5,644.7 831.3,646.0 828.0,646.6 824.4,648.4 820.5,649.3 817.2,649.0 814.0,649.5 811.4,646.9Z"/>
<path id="gb" fill="#137513" d="M260.0,218.8 263.7,217.7 267.5,217.4 270.9,217.4 274.2,218.1 277.5,218.9 280.9,217.7 284.2,216.2 287.5,215.1 286.3,218.8 284.8,222.4 282.4,224.9 280.1,227.6 277.4,230.6 275.0,233.8 278.3,233.8 281.7,233.4 285.0,233.8 288.7,233.0 292.5,232.7 296.2,232.4 300.1,233.5 303.8,234.9 301.6,238.6 299.9,242.5 297.9,245.4 294.9,247.4 292.6,250.1 289.9,253.0 287.5,256.3 285.0,261.2 288.7,262.2 292.5,262.6 294.9,264.7 297.6,266.5 300.1,268.6 301.8,271.9 303.7,275.0 304.6,278.9 306.1,282.6 309.6,284.7 312.5,287.5 314.8,290.2 317.6,292.4 319.9,295.1 321.8,298.6 322.5,302.5 324.0,306.4 326.1,310.1 325.0,316.2 328.3,315.6 331.7,315.5 335.0,314.9 338.7,317.1 342.5,318.7 344.1,321.7 345.0,325.0 342.9,328.6 341.3,332.5 338.1,334.3 335.0,336.2 332.5,340.0 336.5,341.4 340.0,343.7 337.2,346.0 335.0,348.7 331.6,349.3 328.2,349.9 325.0,351.4 321.6,351.4 318.3,352.1 315.0,352.7 311.7,353.6 308.3,354.2 305.0,355.0 301.6,355.0 298.4,356.0 295.0,356.1 291.7,356.3 288.3,355.8 285.0,356.0 281.3,357.2 277.5,357.4 273.7,357.3 270.0,356.3 266.1,357.1 262.5,358.8 259.0,361.1 255.1,362.7 251.0,363.9 247.4,366.1 243.1,366.4 238.8,367.6 240.4,364.3 242.6,361.3 246.0,358.3 250.0,356.3 253.5,353.4 257.4,351.1 261.4,349.6 264.9,347.4 268.5,346.8 271.7,345.2 275.0,343.8 280.0,341.3 276.6,341.1 273.4,339.9 270.0,340.2 266.8,338.3 263.3,337.5 260.0,336.2 256.7,335.8 253.3,335.5 250.0,335.1 248.7,331.3 253.2,329.5 257.5,327.4 261.4,325.3 265.0,322.6 263.5,316.3 261.5,313.4 260.1,309.9 263.1,308.8 266.2,307.4 270.6,306.3 275.0,305.0 277.7,302.7 280.0,300.0 281.7,297.1 282.3,293.7 280.3,290.4 277.6,287.4 273.7,282.5 267.5,281.4 263.7,281.0 260.0,279.9 256.3,275.0 257.5,271.9 258.6,268.7 254.9,265.1 253.1,261.9 251.1,258.8 247.4,253.8 248.2,249.2 249.9,245.0 251.3,241.3 252.6,237.5 251.0,231.3 253.6,228.0 256.2,225.0 257.9,221.7Z"/>
<path id="heb1" fill="#137513" d="M232.5,228.4 235.9,222.7 242.7,219.3 246.1,220.5 243.9,226.1 238.2,230.7 233.6,231.8Z"/>
<path id="heb2" fill="#137513" d="M228.0,234.1 231.4,233.0 231.8,239.8 229.5,244.3 226.8,240.9Z"/>
<path id="heb3" fill="#137513" d="M239.3,235.2 246.1,233.0 250.0,237.5 248.4,244.3 243.9,246.6 240.0,242.0Z"/>
<path id="heb4" fill="#137513" d="M238.2,265.9 242.7,260.2 246.1,254.5 249.5,253.4 250.0,259.1 246.1,265.9 241.6,269.3Z"/>
<path id="heb5" fill="#137513" d="M235.9,251.8 241.6,248.9 245.0,248.2 242.3,251.8 237.3,254.1Z"/>
<path id="shet" fill="#137513" d="M285.0,208.8 290.0,206.2 296.2,204.5 295.0,207.5 290.0,211.2 286.2,212.0Z"/>
<path id="ireland" fill="#1c491d" d="M204.1,284.1 206.7,281.0 209.8,278.4 212.7,277.1 215.9,276.3 218.9,275.1 222.8,274.3 226.8,274.3 232.5,276.3 238.2,276.0 241.7,277.6 244.9,279.8 247.3,282.9 249.4,286.5 248.4,292.0 245.5,293.6 242.8,295.6 240.3,297.6 238.1,299.9 237.6,303.4 236.9,306.8 237.4,310.3 238.4,313.6 237.9,317.0 238.1,320.5 237.3,323.9 236.1,327.3 233.3,329.2 231.4,331.8 228.3,332.3 225.2,332.9 222.2,334.0 219.1,334.4 216.2,335.7 213.1,336.2 210.2,337.2 207.0,337.4 204.0,338.5 201.2,339.9 198.1,340.6 195.0,341.0 191.9,340.7 188.9,341.7 185.9,342.0 182.4,340.6 179.1,338.6 176.7,335.9 174.5,333.0 179.1,329.6 182.5,328.5 186.0,327.5 190.5,323.9 187.3,321.7 183.7,320.3 186.3,318.6 188.2,316.0 192.6,312.4 191.4,309.4 189.5,306.7 186.0,305.8 182.5,305.6 184.4,303.0 185.8,299.9 185.1,297.0 183.7,294.3 186.4,292.9 189.2,291.9 193.4,291.9 197.3,291.1 201.2,289.9 205.2,289.9 209.7,286.3 206.8,285.6 204.1,284.2Z"/>
<path id="nireland" fill="#137513" d="M215.5,283.0 218.0,280.3 221.2,278.5 224.6,277.3 227.9,276.0 231.4,275.8 234.8,276.0 238.8,277.2 242.8,278.3 245.1,281.0 247.5,283.5 249.4,286.5 248.5,292.1 245.6,293.9 242.8,295.6 237.1,297.3 232.6,294.2 228.1,290.8 224.6,294.4 218.8,292.2 217.0,289.4 214.4,287.4Z"/>
<path class="b" d="M237.1,297.3 232.6,294.2 228.1,290.8 224.6,294.4 218.8,292.2 217.0,289.4 214.4,287.4 215.5,283.0 218.0,280.3 221.2,278.5 224.6,277.3 227.9,276.0"/>
<path id="spain" fill="#137513" d="M175.0,495.0 178.6,492.3 182.6,490.1 186.6,488.0 190.1,485.1 193.8,484.4 197.5,483.1 200.9,483.9 204.3,484.7 207.6,486.1 211.7,486.5 215.8,487.1 220.0,487.5 223.8,487.7 227.5,487.7 231.2,487.0 235.0,487.3 238.8,487.1 242.5,488.0 246.3,487.3 250.0,488.1 253.7,488.4 257.5,488.3 261.3,488.3 265.0,488.7 268.7,489.1 272.5,489.6 276.2,489.8 280.0,489.5 284.4,489.4 288.7,490.0 292.6,493.7 295.9,494.2 299.1,495.8 302.5,496.1 305.8,497.5 309.3,498.4 312.5,500.1 315.8,500.2 319.2,499.5 322.5,500.0 326.4,500.9 330.0,502.4 333.8,503.7 337.4,505.2 340.9,505.4 344.1,507.1 347.5,507.4 351.2,507.5 355.0,507.1 358.8,507.5 360.1,511.2 357.1,514.7 355.2,518.9 351.9,520.9 348.5,522.4 345.0,523.8 341.5,525.5 338.5,528.2 335.0,530.0 331.7,532.1 328.1,533.9 325.0,536.3 322.7,539.3 320.3,542.3 317.6,545.1 315.3,549.0 312.3,552.4 310.2,556.4 307.7,560.1 307.1,563.8 306.4,567.5 307.7,571.5 310.1,575.0 307.4,577.4 305.2,580.2 302.4,582.4 300.0,586.3 297.7,590.1 295.8,593.6 295.0,597.5 291.7,599.0 288.4,600.3 285.0,601.2 281.6,603.3 278.2,605.1 275.0,607.5 271.7,609.3 268.5,611.3 265.1,612.7 261.6,612.6 258.3,612.9 255.0,613.9 251.2,613.7 247.5,614.7 243.7,614.5 240.0,615.2 236.8,616.3 233.2,616.3 230.0,617.4 227.2,620.4 225.0,623.8 220.0,627.5 216.6,625.4 213.9,622.3 211.9,618.7 210.2,614.9 207.8,612.2 204.9,610.1 200.1,606.2 195.1,602.4 196.1,598.8 196.0,595.0 198.7,591.2 201.3,587.5 199.9,583.8 198.6,580.0 200.0,576.3 201.4,572.5 200.6,568.8 200.1,565.0 200.5,561.2 201.3,557.5 203.6,554.9 206.1,552.4 206.4,549.1 206.9,545.8 207.3,542.5 208.1,538.8 208.9,535.0 210.7,532.4 213.3,530.3 215.0,527.5 218.8,522.5 216.2,520.0 213.7,517.5 209.5,515.7 205.0,515.0 201.3,515.8 197.5,516.4 193.7,515.8 190.0,515.1 187.4,512.6 183.8,513.1 180.0,513.6 178.3,510.8 177.6,507.5 175.9,503.9 174.9,500.0Z"/>
<path class="b" d="M288.7,490.0 292.6,493.7 295.9,494.2 299.1,495.8 302.5,496.1 305.8,497.5 309.3,498.4 312.5,500.1 315.8,500.2 319.2,499.5 322.5,500.0 326.4,500.9 330.0,502.4 333.8,503.7 337.4,505.2 340.9,505.4 344.1,507.1 347.5,507.4 351.2,507.5 355.0,507.1 358.8,507.5"/>
<path id="portugal" fill="#a0db9c" d="M187.5,512.5 189.9,515.1 193.7,515.7 197.5,516.4 201.3,515.9 205.0,515.1 209.4,516.1 213.8,517.5 216.2,520.0 218.6,522.6 215.1,527.6 212.5,529.7 210.5,532.2 208.9,535.1 208.3,538.8 207.3,542.5 206.8,545.8 206.1,549.1 206.3,552.5 203.6,554.9 201.3,557.6 201.1,561.3 200.0,565.0 200.6,568.7 201.3,572.5 199.6,576.1 198.7,580.0 200.2,583.7 201.3,587.5 198.8,591.3 196.3,595.0 195.6,598.7 194.9,602.5 190.1,605.1 186.7,605.9 183.3,605.5 180.0,606.1 175.6,606.4 171.2,606.2 171.5,601.8 172.5,597.5 173.4,594.2 173.0,590.8 173.8,587.5 172.7,584.2 172.1,580.8 171.3,577.5 169.7,573.6 167.7,569.9 167.7,566.2 168.7,562.5 170.0,559.3 169.9,555.7 171.1,552.5 172.1,549.0 173.3,545.7 174.9,542.4 176.0,539.2 176.3,535.7 177.6,532.5 177.6,529.2 178.0,525.8 177.6,522.5 178.5,518.7 180.2,515.1 183.8,513.9Z"/>
<path class="b" d="M180.2,515.1 183.8,513.9 187.5,512.5 189.9,515.1 193.7,515.7 197.5,516.4 201.3,515.9 205.0,515.1 209.4,516.1 213.8,517.5 216.2,520.0 218.6,522.6 215.1,527.6 212.5,529.7 210.5,532.2 208.9,535.1 208.3,538.8 207.3,542.5 206.8,545.8 206.1,549.1 206.3,552.5 203.6,554.9 201.3,557.6 201.1,561.3 200.0,565.0 200.6,568.7 201.3,572.5 199.6,576.1 198.7,580.0 200.2,583.7 201.3,587.5 198.8,591.3 196.3,595.0 195.6,598.7 194.9,602.5"/>
<path id="mallorca" fill="#137513" d="M347.5,557.5 355.0,553.8 362.5,556.2 360.0,562.5 352.5,563.8Z"/>
<path id="menorca" fill="#137513" d="M368.8,550.5 375.0,552.0 374.5,555.0 368.8,553.8Z"/>
<path id="ibiza" fill="#137513" d="M328.2,570.0 333.2,568.2 333.0,573.8 329.5,574.5Z"/>
<path id="morocco" fill="#1c491d" d="M215.0,629.0 220.0,627.6 225.0,631.5 227.6,636.4 232.4,640.4 235.8,639.8 239.2,639.8 242.5,640.1 246.7,640.3 250.8,639.3 255.0,639.6 258.4,639.3 261.7,640.2 265.0,640.3 268.2,641.0 271.3,641.9 274.4,644.8 277.5,647.7 278.3,651.5 279.3,655.2 279.8,659.0 280.4,663.2 281.1,667.3 281.3,671.5 282.1,674.8 282.3,678.1 282.3,681.5 284.3,684.3 285.8,687.4 287.7,690.1 286.3,696.5 281.9,697.3 277.5,698.0 274.2,697.7 270.8,697.7 267.5,697.8 263.1,697.9 258.7,698.8 257.7,704.1 253.6,704.9 250.0,706.6 244.9,708.8 245.8,712.7 246.2,716.5 243.9,721.6 239.4,722.9 235.0,724.1 231.4,726.2 227.5,727.7 225.1,730.9 222.4,733.9 218.7,735.7 214.9,737.6 211.7,738.6 208.2,739.0 205.0,740.2 201.4,742.4 197.6,744.2 193.7,744.4 190.0,745.3 186.1,746.8 182.6,749.2 178.9,751.7 175.0,754.1 172.2,755.8 170.3,758.6 167.6,760.4 165.0,764.0 165.0,767.4 165.1,770.8 164.3,774.2 164.2,777.6 164.1,781.0 164.8,784.4 164.6,787.8 161.3,787.5 158.1,787.6 154.9,787.6 151.6,788.2 148.4,788.1 145.2,787.8 142.0,787.6 138.8,787.8 135.6,787.2 132.3,787.6 129.1,787.8 125.9,787.6 122.7,787.5 119.5,788.0 116.3,787.5 113.0,787.9 109.8,787.4 106.6,788.2 103.4,787.3 100.2,788.0 97.0,788.2 93.8,787.5 94.4,783.4 95.1,779.0 98.2,777.5 101.5,776.2 105.0,775.2 108.4,774.2 111.5,772.4 114.9,771.3 118.5,769.2 121.5,766.2 125.1,764.1 127.6,761.6 129.6,758.6 132.6,756.6 134.9,753.9 137.7,751.7 140.2,749.2 142.4,745.9 143.8,742.1 146.2,739.0 147.3,735.6 148.6,732.3 149.9,729.0 149.3,725.7 148.6,722.4 148.7,719.0 149.8,715.6 151.7,712.5 152.4,709.0 154.5,705.8 155.8,702.3 157.5,699.0 158.8,695.5 160.4,692.1 162.6,689.1 165.0,686.5 167.2,683.7 170.0,681.5 173.4,679.1 176.8,676.7 179.9,673.8 183.3,671.8 186.4,669.4 190.0,667.8 192.8,665.9 194.7,663.0 197.2,660.9 200.0,659.0 202.1,655.0 205.1,651.6 206.4,647.5 208.8,644.0 210.1,640.3 211.1,636.5 212.7,632.5Z"/>
<path class="b" d="M215.0,629.0 220.0,627.6"/>
<path id="algeria" fill="#1c491d" d="M271.2,642.0 275.5,640.7 280.0,640.1 283.8,638.4 287.6,636.6 290.9,634.9 294.4,633.6 297.4,631.4 301.1,629.4 305.0,627.7 307.2,625.3 310.3,623.9 312.4,621.4 316.3,619.7 319.9,617.6 323.3,617.2 326.6,616.5 330.0,616.6 333.3,615.8 336.6,615.5 340.0,615.2 343.3,615.1 346.5,614.3 349.7,614.0 352.5,611.5 356.7,611.1 360.9,610.5 365.0,609.7 369.1,610.6 373.3,611.3 377.5,612.1 381.7,612.0 385.8,613.5 390.0,613.5 393.1,612.3 396.3,611.4 399.5,610.5 402.5,609.0 407.6,606.7 410.9,606.6 414.2,607.2 417.5,607.9 420.7,609.0 424.2,609.2 427.5,610.1 431.3,610.0 435.0,609.6 438.8,609.2 437.9,612.9 436.2,616.5 436.6,620.2 436.2,624.0 436.1,627.4 435.8,630.7 435.0,634.0 434.6,637.3 435.4,640.7 434.8,644.0 433.5,647.9 431.3,651.5 429.0,654.3 426.3,656.5 424.9,660.2 423.5,663.9 424.5,667.9 426.3,671.5 429.5,673.9 432.5,676.5 434.7,680.1 436.1,684.1 438.3,686.5 440.5,688.9 442.5,691.5 445.4,695.0 447.4,699.0 447.9,703.2 448.7,707.4 450.0,711.5 451.1,715.6 451.9,719.8 452.6,724.0 453.8,728.4 455.0,732.7 451.4,736.6 452.3,740.3 453.6,744.0 454.9,747.4 456.6,750.5 457.3,754.1 457.7,757.4 458.4,760.8 459.4,764.0 459.9,767.3 459.9,770.7 460.4,774.0 460.1,777.3 460.8,780.7 460.4,784.0 460.5,787.3 460.3,790.7 460.2,794.0 456.8,793.8 453.6,793.6 450.4,794.0 447.2,793.7 443.9,793.7 440.7,793.8 437.5,794.1 434.3,793.9 431.1,793.8 427.9,794.4 424.7,794.1 421.5,793.8 418.2,794.5 415.0,794.1 411.8,793.6 408.6,793.5 405.4,793.5 402.2,793.7 399.0,793.5 395.8,793.8 392.5,794.4 389.3,793.6 386.1,794.5 382.9,794.4 379.7,793.8 376.5,793.7 373.3,794.5 370.1,793.8 366.9,794.1 363.6,793.8 360.4,793.9 357.2,794.2 354.0,794.2 350.8,794.3 347.6,793.5 344.4,793.7 341.2,794.0 337.9,794.1 334.7,794.3 331.5,793.5 328.3,793.6 325.1,794.1 321.9,793.6 318.7,794.0 315.5,794.1 312.2,794.1 309.0,793.6 305.8,794.1 302.6,793.9 299.4,794.1 296.2,793.7 293.0,793.6 289.8,794.4 286.6,793.8 283.3,793.9 280.1,794.3 276.9,794.3 273.7,793.6 270.5,793.6 267.3,794.0 264.1,793.6 260.9,793.7 257.6,793.7 254.4,794.5 251.2,793.7 248.0,793.5 244.8,794.4 241.6,794.0 238.4,793.8 235.2,794.4 232.0,794.3 228.7,793.5 225.5,794.5 222.3,794.5 219.1,794.5 215.9,794.5 212.7,793.8 209.5,794.0 206.3,794.1 203.0,794.2 199.8,794.5 196.6,793.7 193.4,793.8 190.2,794.3 187.0,793.8 183.8,793.8 180.6,794.0 177.3,794.5 174.1,794.1 170.9,794.4 167.7,794.5 164.5,794.1 164.0,790.7 164.6,787.3 164.4,784.0 164.6,780.7 164.8,777.3 164.7,774.0 164.6,770.7 164.9,767.3 164.3,764.0 167.4,760.2 170.0,758.1 172.6,756.2 175.1,754.1 178.7,751.4 182.5,748.9 186.4,747.4 190.0,745.2 193.8,744.8 197.5,744.2 201.1,741.8 204.9,740.1 208.3,739.4 211.6,738.5 215.0,737.8 218.6,735.6 222.5,734.1 225.1,730.9 227.4,727.6 231.0,725.4 234.9,723.9 239.3,722.4 243.7,721.3 246.4,716.6 245.3,712.8 245.1,709.0 250.0,706.4 253.7,705.2 257.4,703.8 258.6,699.0 263.2,698.6 267.5,697.8 270.8,697.5 274.2,697.8 277.5,697.7 281.9,697.1 286.2,696.5 287.4,690.2 285.6,687.5 283.7,684.7 282.7,681.4 282.5,678.1 281.5,674.9 281.4,671.5 280.5,667.4 280.3,663.2 280.0,659.0 279.2,655.2 278.0,651.6 277.3,647.8 274.4,644.8Z"/>
<path class="b" d="M164.4,784.0 164.6,780.7 164.8,777.3 164.7,774.0 164.6,770.7 164.9,767.3 164.3,764.0 167.4,760.2 170.0,758.1 172.6,756.2 175.1,754.1 178.7,751.4 182.5,748.9 186.4,747.4 190.0,745.2 193.8,744.8 197.5,744.2 201.1,741.8 204.9,740.1 208.3,739.4 211.6,738.5 215.0,737.8 218.6,735.6 222.5,734.1 225.1,730.9 227.4,727.6 231.0,725.4 234.9,723.9 239.3,722.4 243.7,721.3 246.4,716.6 245.3,712.8 245.1,709.0 250.0,706.4 253.7,705.2 257.4,703.8 258.6,699.0 263.2,698.6 267.5,697.8 270.8,697.5 274.2,697.8 277.5,697.7 281.9,697.1 286.2,696.5 287.4,690.2 285.6,687.5 283.7,684.7 282.7,681.4 282.5,678.1 281.5,674.9 281.4,671.5 280.5,667.4 280.3,663.2 280.0,659.0 279.2,655.2 278.0,651.6 277.3,647.8 274.4,644.8 271.2,642.0"/>
<path id="tunisia" fill="#1c491d" d="M438.8,609.0 441.6,606.7 444.9,605.2 448.3,603.9 451.8,603.5 455.1,602.2 458.7,602.8 462.5,602.6 463.6,605.9 464.9,609.0 469.9,612.8 472.8,609.9 476.4,607.9 477.7,611.4 475.9,614.8 473.6,617.6 471.7,620.7 470.0,624.0 470.8,627.9 472.4,631.5 475.0,634.0 477.4,636.6 477.6,640.2 477.5,644.0 475.2,647.9 472.4,651.4 469.7,654.4 466.3,656.6 463.9,661.6 467.0,663.8 470.0,666.5 473.2,667.5 476.2,669.2 479.6,671.2 482.6,673.9 484.2,677.2 486.2,680.3 486.3,684.4 486.1,688.6 486.2,692.8 483.0,694.4 480.1,696.7 476.4,699.3 472.6,701.7 469.9,703.4 467.5,705.6 465.0,707.7 463.3,710.7 462.4,713.9 462.8,717.8 463.6,721.5 461.4,725.0 460.2,729.1 455.1,732.9 453.3,728.5 452.7,723.9 451.5,719.9 450.9,715.7 450.0,711.5 449.3,707.3 448.4,703.2 447.7,699.0 445.2,695.1 442.7,691.4 440.6,688.9 438.2,686.6 436.3,683.9 434.0,680.4 432.5,676.5 429.2,674.2 426.3,671.5 424.8,667.8 423.8,664.0 424.5,660.1 426.3,656.5 428.9,654.1 431.4,651.6 433.1,647.8 435.1,644.1 434.7,640.7 434.9,637.3 435.0,634.0 435.6,630.7 435.8,627.3 436.3,624.0 436.8,620.2 436.1,616.5 437.9,612.9Z"/>
<path class="b" d="M455.1,732.9 453.3,728.5 452.7,723.9 451.5,719.9 450.9,715.7 450.0,711.5 449.3,707.3 448.4,703.2 447.7,699.0 445.2,695.1 442.7,691.4 440.6,688.9 438.2,686.6 436.3,683.9 434.0,680.4 432.5,676.5 429.2,674.2 426.3,671.5 424.8,667.8 423.8,664.0 424.5,660.1 426.3,656.5 428.9,654.1 431.4,651.6 433.1,647.8 435.1,644.1 434.7,640.7 434.9,637.3 435.0,634.0 435.6,630.7 435.8,627.3 436.3,624.0 436.8,620.2 436.1,616.5 437.9,612.9 438.8,609.0"/>
<path id="libya" fill="#1c491d" d="M486.2,680.2 490.6,682.3 495.1,683.9 498.3,684.7 501.7,684.5 505.0,685.3 508.3,685.2 511.7,684.9 515.0,685.1 518.2,686.6 521.7,686.8 525.0,687.6 528.3,689.5 531.6,691.2 535.1,692.6 538.8,694.5 542.5,696.5 544.7,700.5 547.6,704.0 550.2,706.3 552.3,709.2 554.9,711.6 559.9,714.1 564.2,714.0 568.3,715.2 572.5,715.5 575.6,716.2 578.9,716.8 581.9,718.0 584.9,719.2 588.6,721.7 592.4,724.2 594.7,726.4 597.8,727.9 600.1,730.1 603.7,731.4 607.5,731.7 611.3,729.0 614.9,726.4 617.6,722.8 619.9,719.0 618.8,715.7 618.1,712.4 617.5,709.0 618.4,705.7 618.6,702.4 618.9,699.0 620.4,696.2 622.8,693.9 624.9,691.4 628.5,690.1 631.9,688.6 635.1,686.7 638.3,685.4 641.6,684.5 645.0,684.1 648.4,684.3 651.6,685.1 655.0,685.3 658.5,687.5 662.6,688.9 664.6,691.9 667.3,694.2 670.9,694.7 674.1,696.0 677.5,696.5 681.0,696.8 684.3,697.7 687.4,699.2 690.8,700.1 694.2,701.0 697.5,701.9 698.8,706.5 696.4,711.6 695.6,715.6 695.4,719.8 694.9,724.0 695.2,728.2 695.5,732.4 696.3,736.5 696.5,740.7 696.8,744.9 697.4,749.0 697.9,752.7 698.5,756.5 698.0,760.3 698.9,764.0 699.3,767.3 698.6,770.7 699.3,774.0 698.8,777.4 699.0,780.7 699.6,784.0 699.5,787.3 699.9,790.7 700.0,794.0 696.8,794.1 693.6,794.4 690.4,793.8 687.2,794.0 684.0,793.8 680.8,793.8 677.6,793.7 674.4,794.1 671.2,793.6 668.0,794.0 664.8,794.0 661.6,794.4 658.4,793.6 655.2,794.3 652.0,794.3 648.8,793.9 645.6,794.2 642.4,794.4 639.2,793.8 636.0,793.7 632.8,793.9 629.6,793.7 626.4,794.1 623.2,793.9 620.0,793.5 616.8,793.6 613.6,793.6 610.4,794.1 607.2,794.5 604.0,794.1 600.8,794.2 597.6,793.6 594.4,793.5 591.2,793.6 588.0,793.9 584.8,794.5 581.6,794.4 578.4,793.7 575.2,794.1 572.0,794.1 568.8,794.2 565.6,794.4 562.4,794.2 559.2,794.1 556.0,793.9 552.8,794.0 549.6,793.9 546.4,793.8 543.2,794.2 540.0,793.7 536.8,794.1 533.6,794.3 530.4,794.3 527.2,793.6 524.0,794.4 520.8,793.8 517.6,794.3 514.4,793.5 511.2,793.9 508.0,794.3 504.8,793.8 501.6,794.5 498.4,794.1 495.2,793.9 492.0,793.6 488.8,794.1 485.6,794.4 482.4,793.5 479.2,793.6 476.0,793.5 472.8,793.5 469.6,793.8 466.4,793.8 463.2,793.9 460.0,794.2 459.9,790.7 460.7,787.3 460.0,784.0 460.2,780.7 460.3,777.3 460.5,774.0 460.6,770.6 459.5,767.4 459.3,764.0 458.6,760.7 457.9,757.4 457.7,754.0 456.7,750.5 454.8,747.4 453.9,744.0 452.0,740.4 451.3,736.5 455.0,732.7 459.9,728.9 462.1,725.4 463.9,721.6 462.6,717.8 462.5,714.0 464.1,711.0 465.0,707.7 467.3,705.4 469.7,703.2 472.5,701.5 476.5,699.4 479.9,696.4 483.0,694.5 486.3,692.8 486.1,688.6 486.4,684.4Z"/>
<path class="b" d="M460.0,784.0 460.2,780.7 460.3,777.3 460.5,774.0 460.6,770.6 459.5,767.4 459.3,764.0 458.6,760.7 457.9,757.4 457.7,754.0 456.7,750.5 454.8,747.4 453.9,744.0 452.0,740.4 451.3,736.5 455.0,732.7 459.9,728.9 462.1,725.4 463.9,721.6 462.6,717.8 462.5,714.0 464.1,711.0 465.0,707.7 467.3,705.4 469.7,703.2 472.5,701.5 476.5,699.4 479.9,696.4 483.0,694.5 486.3,692.8 486.1,688.6 486.4,684.4 486.2,680.2"/>
<path id="egypt" fill="#16371a" d="M698.8,706.5 702.5,707.3 706.3,708.1 710.0,709.0 713.3,709.3 716.6,710.3 720.0,710.3 723.3,711.7 726.6,713.0 729.9,714.2 733.4,714.5 736.6,716.0 740.0,716.6 743.3,717.0 746.7,716.8 750.0,717.6 753.3,718.8 756.7,719.5 760.0,720.2 763.7,719.5 767.5,718.9 771.5,716.9 775.1,714.1 779.0,712.6 782.4,710.1 785.9,710.2 789.1,709.1 792.5,708.9 796.2,709.7 800.0,710.1 803.8,710.6 807.5,711.6 811.3,712.5 815.0,714.1 818.8,714.2 822.5,713.5 826.1,712.5 829.7,711.4 833.3,711.6 836.8,712.4 840.4,712.4 844.0,713.0 844.7,716.5 845.2,720.4 846.3,724.0 847.8,727.7 848.5,731.7 849.8,735.4 851.6,739.0 853.3,742.7 855.5,746.1 855.5,750.3 854.2,754.4 853.4,758.3 852.8,762.2 852.0,766.0 851.8,769.9 851.0,775.0 846.7,778.9 844.5,776.0 841.6,773.8 839.1,771.1 836.7,768.7 834.5,766.2 832.5,763.5 829.5,759.9 827.2,755.8 825.2,753.0 823.8,749.8 822.1,746.8 820.3,743.1 818.3,739.6 816.5,739.5 815.8,743.5 817.5,747.8 819.6,751.9 821.9,756.0 824.8,759.6 827.7,763.2 830.1,767.2 832.1,769.9 834.1,772.6 836.3,775.1 836.5,778.4 837.9,781.5 838.0,784.9 836.9,788.2 836.6,791.6 836.9,795.0 833.7,794.5 830.5,794.6 827.2,794.8 823.9,795.3 820.7,794.8 817.4,794.9 814.2,794.5 810.9,795.0 807.6,795.2 804.4,794.7 801.1,794.6 797.9,794.8 794.6,794.2 791.3,794.6 788.1,794.6 784.8,795.0 781.5,794.6 778.3,794.5 775.0,794.3 771.8,794.8 768.5,794.7 765.2,794.9 762.0,794.2 758.7,794.7 755.5,794.3 752.2,794.3 748.9,794.6 745.7,794.7 742.4,794.1 739.1,794.8 735.9,794.0 732.6,793.7 729.4,794.4 726.1,793.9 722.8,794.0 719.6,794.1 716.3,794.1 713.0,793.9 709.8,793.6 706.5,793.6 703.3,793.7 700.0,794.1 699.5,790.7 699.2,787.4 699.9,784.0 699.5,780.7 699.0,777.3 699.3,774.0 699.1,770.7 699.1,767.3 698.7,764.0 698.0,760.3 698.1,756.5 697.5,752.8 697.4,749.0 696.7,744.9 697.1,740.6 696.3,736.5 695.7,732.3 695.5,728.2 694.9,724.0 695.3,719.8 696.3,715.7 696.4,711.5Z"/>
<path class="b" d="M699.9,784.0 699.5,780.7 699.0,777.3 699.3,774.0 699.1,770.7 699.1,767.3 698.7,764.0 698.0,760.3 698.1,756.5 697.5,752.8 697.4,749.0 696.7,744.9 697.1,740.6 696.3,736.5 695.7,732.3 695.5,728.2 694.9,724.0 695.3,719.8 696.3,715.7 696.4,711.5 698.8,706.5"/>
<path id="thrace" fill="#1c491d" d="M710.0,520.0 712.7,517.7 714.9,514.9 718.7,514.1 722.5,513.8 726.4,512.9 730.0,511.3 732.3,516.3 734.7,518.7 737.2,520.7 739.9,522.6 743.1,524.9 746.9,526.3 749.9,528.9 754.9,532.6 750.0,533.7 746.7,533.2 743.4,532.5 740.0,532.5 736.7,531.8 733.4,531.3 730.0,531.5 726.3,533.2 722.5,535.1 719.0,537.3 714.9,538.6 708.8,540.0 707.6,536.3 707.4,532.5 708.3,528.3 709.1,524.1Z"/>
<path class="b" d="M707.4,532.5 708.3,528.3M710.0,520.0 712.7,517.7 714.9,514.9 718.7,514.1 722.5,513.8 726.4,512.9 730.0,511.3"/>
<path id="turkey" fill="#1c491d" d="M707.5,546.5 712.1,545.3 716.9,545.3 720.5,545.1 724.1,544.9 727.7,545.3 731.3,545.7 734.6,545.8 737.8,545.0 741.0,544.7 744.2,544.9 747.4,544.7 750.6,544.0 753.3,541.7 756.5,540.1 760.1,537.7 756.0,535.1 753.5,532.8 758.0,532.0 762.5,531.7 765.8,532.5 769.1,533.3 772.5,533.8 775.8,532.4 779.1,531.1 782.5,530.0 785.3,528.3 787.6,525.9 790.0,523.8 793.5,522.4 796.6,520.3 800.1,518.9 804.5,517.5 809.1,516.4 813.2,515.7 817.3,515.3 821.5,515.0 825.7,514.8 829.8,514.0 834.0,514.0 837.7,515.7 841.4,517.7 845.1,519.1 849.0,520.1 852.2,522.4 855.7,524.0 858.9,526.3 862.4,526.9 865.6,528.0 869.0,528.9 872.2,530.1 875.6,530.6 879.0,531.4 882.3,532.2 885.5,533.4 889.0,533.9 892.3,533.2 895.7,533.6 899.0,533.7 902.4,533.6 905.7,533.4 909.0,532.3 912.3,531.8 915.7,531.9 919.0,531.4 922.2,529.6 925.5,528.4 928.9,527.3 932.8,525.8 936.6,523.9 940.2,523.6 944.6,523.8 949.0,523.6 952.4,524.5 955.6,525.6 959.0,526.3 962.5,527.1 965.6,529.0 969.0,530.0 970.9,534.4 972.8,538.7 973.9,542.5 975.2,546.3 978.6,548.4 981.5,551.2 982.5,554.5 984.2,557.4 982.3,560.7 980.2,563.7 982.5,566.6 984.4,569.6 986.4,572.6 987.7,575.7 987.8,579.3 988.9,582.5 988.3,586.4 986.5,590.0 989.6,592.6 992.8,595.0 994.2,598.7 995.4,602.5 989.0,603.8 985.3,602.2 981.6,601.0 978.2,600.7 974.8,601.0 971.5,600.1 967.7,600.1 964.0,601.4 959.0,602.6 956.6,608.0 952.8,609.2 949.0,609.5 945.7,609.4 942.4,609.0 939.0,609.0 935.6,609.1 932.4,610.1 929.0,610.3 925.5,611.1 922.2,612.3 919.0,614.1 915.8,615.2 912.3,615.7 909.0,616.4 905.5,616.2 902.3,615.1 899.0,614.1 895.6,614.7 892.3,615.5 889.0,616.5 885.3,617.8 881.5,619.1 877.7,618.5 874.0,617.6 872.5,621.1 870.3,624.0 866.9,627.9 863.5,626.8 862.4,623.3 861.0,620.0 862.5,616.2 864.9,612.9 862.8,609.6 858.5,610.9 855.5,612.9 852.0,614.0 849.1,612.3 846.1,610.8 841.0,612.0 838.2,614.4 834.9,615.8 832.8,618.6 829.9,620.5 825.8,621.5 822.0,623.3 818.5,623.7 815.0,624.0 811.3,622.8 807.5,622.5 803.7,620.3 800.0,618.1 796.4,615.4 792.7,612.9 788.8,611.8 785.0,610.3 781.9,611.4 779.0,612.9 777.5,616.5 775.9,619.9 772.2,620.5 768.6,621.5 764.8,621.2 761.0,620.6 758.6,617.0 755.6,614.0 751.8,611.8 748.0,609.5 743.5,608.8 739.0,608.2 736.2,606.3 733.3,604.8 730.4,603.2 729.2,599.9 727.1,597.2 726.0,594.0 723.6,591.6 721.9,588.7 719.9,586.1 717.4,582.1 713.9,579.1 716.3,575.3 718.5,571.5 718.4,566.7 718.0,562.0 714.9,559.4 711.6,557.0 707.9,555.1 707.1,550.5 707.0,546.0Z"/>
<path id="georgia" fill="#7c0103" d="M910.2,487.5 914.7,487.1 919.0,486.4 922.2,487.9 925.6,488.9 928.9,490.2 932.3,490.9 935.6,492.0 939.0,492.3 942.4,492.8 945.7,492.9 949.0,493.5 952.2,495.1 955.8,495.0 959.0,496.3 962.3,498.0 965.6,499.8 969.0,501.2 972.4,501.5 975.7,501.9 979.0,502.3 982.4,503.2 985.7,504.0 989.0,504.9 992.2,506.8 995.3,508.7 997.2,511.8 999.0,515.0 1002.5,517.3 1006.5,518.7 1010.3,518.8 1014.0,520.2 1012.7,525.0 1009.1,528.9 1005.7,528.0 1002.4,527.4 999.0,527.3 995.7,527.1 992.3,527.9 989.0,527.3 985.7,527.9 982.3,528.3 979.0,528.8 975.7,528.6 972.3,528.8 969.0,528.6 965.5,528.4 962.4,526.7 959.0,526.4 955.7,525.2 952.3,524.6 949.0,523.6 944.6,523.2 940.2,523.8 938.9,517.5 937.3,513.9 936.6,510.0 934.4,506.0 931.4,502.6 927.7,500.1 924.1,497.4 920.8,495.6 917.5,493.8 913.9,492.7Z"/>
<path class="b" d="M969.0,528.6 965.5,528.4 962.4,526.7 959.0,526.4 955.7,525.2 952.3,524.6 949.0,523.6 944.6,523.2 940.2,523.8M910.2,487.5 914.7,487.1 919.0,486.4 922.2,487.9 925.6,488.9 928.9,490.2 932.3,490.9 935.6,492.0 939.0,492.3 942.4,492.8 945.7,492.9 949.0,493.5 952.2,495.1 955.8,495.0 959.0,496.3 962.3,498.0 965.6,499.8 969.0,501.2 972.4,501.5 975.7,501.9 979.0,502.3 982.4,503.2 985.7,504.0 989.0,504.9 992.2,506.8 995.3,508.7 997.2,511.8 999.0,515.0 1002.5,517.3 1006.5,518.7 1010.3,518.8 1014.0,520.2"/>
<path id="azer" fill="#1c491d" d="M990.2,528.8 994.6,528.0 999.0,527.5 1002.3,527.8 1005.6,528.7 1009.0,528.5 1012.7,525.0 1014.0,520.0 1018.0,522.2 1021.5,525.0 1025.1,526.6 1029.1,527.3 1031.9,525.2 1035.3,523.8 1040.1,519.9 1043.4,522.5 1046.5,525.0 1048.4,527.6 1050.4,530.2 1052.9,532.4 1054.8,535.0 1057.1,537.3 1059.2,539.9 1062.3,541.0 1065.8,541.2 1069.0,542.4 1065.8,544.0 1062.2,544.6 1059.0,546.2 1059.2,550.6 1059.0,555.0 1058.8,558.4 1057.6,561.6 1057.8,565.0 1055.9,568.2 1054.1,571.5 1052.8,575.0 1055.3,580.0 1049.0,578.7 1046.5,575.7 1043.9,572.6 1043.1,568.2 1042.8,563.7 1039.1,558.7 1035.2,560.4 1031.5,562.4 1027.6,564.7 1024.0,567.5 1020.9,569.5 1017.7,571.2 1016.4,566.9 1015.3,562.5 1011.4,557.6 1009.1,554.9 1006.5,552.5 1004.4,549.1 1001.4,546.3 1000.4,543.1 999.0,540.0 996.7,536.7 994.0,533.7Z"/>
<path class="b" d="M990.2,528.8 994.6,528.0 999.0,527.5 1002.3,527.8 1005.6,528.7 1009.0,528.5 1012.7,525.0 1014.0,520.0 1018.0,522.2 1021.5,525.0 1025.1,526.6 1029.1,527.3 1031.9,525.2 1035.3,523.8 1040.1,519.9"/>
<path id="armenia" fill="#8c000a" d="M969.4,531.5 973.9,530.9 978.5,530.6 981.9,530.4 985.2,531.2 988.6,531.7 991.4,533.8 994.7,535.5 996.9,538.3 999.8,540.5 1000.8,545.7 1005.7,548.8 1007.6,552.8 1010.7,557.9 1013.2,560.5 1015.9,562.8 1017.0,566.0 1018.9,568.9 1013.9,572.0 1012.7,568.7 1010.9,565.9 1007.9,563.7 1005.9,560.7 1002.9,559.1 999.7,557.9 996.1,557.6 992.6,557.0 989.2,555.3 985.6,554.5 982.0,552.8 978.6,550.5 976.2,548.3 973.4,546.7 972.3,543.2 971.6,539.6 970.9,535.4Z"/>
<path class="b" d="M985.6,554.5 982.0,552.8 978.6,550.5 976.2,548.3 973.4,546.7 972.3,543.2 971.6,539.6 970.9,535.4 969.4,531.5 973.9,530.9 978.5,530.6 981.9,530.4 985.2,531.2 988.6,531.7 991.4,533.8 994.7,535.5 996.9,538.3 999.8,540.5 1000.8,545.7 1005.7,548.8 1007.6,552.8 1010.7,557.9 1013.2,560.5 1015.9,562.8 1017.0,566.0 1018.9,568.9"/>
<path id="iran" fill="#1c491d" d="M984.0,557.5 989.0,556.1 992.6,558.1 996.5,559.4 1000.4,561.0 1003.9,563.2 1006.6,565.1 1009.0,567.6 1012.7,572.5 1017.8,571.4 1021.1,569.7 1024.0,567.5 1027.9,565.3 1031.6,562.6 1035.4,561.0 1039.0,558.7 1042.8,563.7 1043.5,568.1 1044.2,572.5 1046.3,575.8 1048.9,578.9 1055.3,579.9 1057.3,583.7 1059.2,587.4 1061.2,590.3 1063.8,592.7 1066.5,595.0 1070.2,597.5 1074.0,599.9 1077.9,600.9 1081.4,602.7 1081.9,605.8 1081.7,609.0 1081.0,612.2 1082.0,615.5 1081.7,618.8 1081.0,622.0 1081.3,625.2 1081.8,628.5 1081.8,631.8 1081.1,635.0 1081.2,638.2 1081.9,641.5 1081.1,644.8 1081.5,648.0 1081.0,651.2 1081.0,654.5 1081.3,657.8 1081.2,661.0 1082.0,664.2 1082.0,667.5 1081.1,670.8 1081.9,674.0 1081.7,677.2 1081.5,680.5 1082.0,683.8 1081.2,687.0 1081.0,690.2 1081.7,693.5 1081.2,696.8 1081.2,700.0 1081.1,703.2 1082.0,706.5 1081.4,709.8 1081.9,713.0 1081.5,716.2 1081.5,719.5 1082.0,722.8 1082.0,726.0 1081.7,729.2 1081.6,732.5 1082.0,735.8 1081.4,739.0 1077.8,738.2 1074.0,738.2 1070.2,737.9 1070.1,736.5 1068.4,733.8 1066.3,731.3 1063.9,729.1 1062.0,725.8 1060.5,722.4 1059.0,719.0 1057.9,715.7 1056.9,712.4 1056.6,709.0 1054.8,705.7 1053.2,702.3 1051.5,699.0 1048.9,696.6 1046.7,693.8 1044.0,691.5 1040.8,688.8 1037.6,686.2 1034.0,684.0 1030.2,681.6 1026.4,679.2 1024.5,675.8 1023.5,672.1 1021.6,668.9 1019.8,666.2 1017.7,663.7 1015.1,661.6 1015.5,657.7 1016.5,654.0 1018.6,650.0 1021.6,646.6 1019.2,643.6 1017.9,640.1 1020.1,637.0 1022.9,634.1 1021.3,629.0 1017.7,628.6 1014.0,627.6 1011.5,625.6 1008.7,623.9 1006.5,621.5 1003.0,618.6 998.9,616.6 996.9,612.8 995.3,609.0 993.9,605.8 993.6,602.3 992.9,599.0 995.3,602.5 994.0,598.8 992.7,595.0 989.7,592.4 986.6,589.9 987.4,586.1 989.0,582.5 988.5,579.1 986.9,576.0 986.4,572.5 984.4,569.6 982.1,566.9 980.4,563.7 982.1,560.6Z"/>
<path class="b" d="M993.6,602.3 992.9,599.0 995.3,602.5 994.0,598.8 992.7,595.0 989.7,592.4 986.6,589.9 987.4,586.1 989.0,582.5 988.5,579.1 986.9,576.0 986.4,572.5 984.4,569.6 982.1,566.9 980.4,563.7 982.1,560.6 984.0,557.5 989.0,556.1 992.6,558.1 996.5,559.4 1000.4,561.0 1003.9,563.2 1006.6,565.1 1009.0,567.6 1012.7,572.5 1017.8,571.4 1021.1,569.7 1024.0,567.5 1027.9,565.3 1031.6,562.6 1035.4,561.0 1039.0,558.7 1042.8,563.7 1043.5,568.1 1044.2,572.5 1046.3,575.8 1048.9,578.9 1055.3,579.9"/>
<path id="iraq" fill="#16371a" d="M959.0,601.5 962.3,601.2 965.6,600.3 969.0,600.0 973.2,600.1 977.3,601.1 981.5,601.4 985.1,603.7 989.0,605.2 991.3,602.4 992.8,599.0 993.8,602.3 994.4,605.7 995.3,609.0 997.4,612.6 998.9,616.6 1002.6,619.3 1006.6,621.4 1009.1,623.5 1011.6,625.5 1014.0,627.8 1017.8,628.1 1021.5,628.8 1022.7,634.0 1020.3,637.1 1017.7,640.2 1019.5,643.4 1021.4,646.6 1019.0,650.3 1016.4,653.9 1015.8,657.7 1015.2,661.5 1017.6,663.8 1019.8,666.2 1021.4,669.1 1022.9,672.4 1024.8,675.7 1026.3,679.1 1030.3,681.5 1034.1,683.9 1037.2,686.7 1040.4,689.4 1044.1,691.3 1046.6,693.9 1048.8,696.7 1051.6,698.9 1052.9,702.5 1054.7,705.7 1056.3,709.1 1057.9,712.2 1058.0,715.7 1058.9,719.0 1060.6,722.3 1062.1,725.8 1064.2,728.9 1066.1,731.5 1068.4,733.8 1070.2,736.6 1066.9,736.7 1063.6,737.1 1060.3,737.3 1056.9,737.6 1053.6,737.2 1050.3,737.9 1049.3,740.9 1048.0,743.8 1046.3,746.7 1045.3,749.8 1044.1,752.8 1040.6,752.9 1037.3,753.7 1034.0,753.9 1029.8,754.1 1025.7,752.7 1021.5,752.6 1018.3,752.2 1015.3,750.8 1012.3,749.4 1009.0,749.0 1005.6,747.5 1002.5,745.4 999.0,744.0 995.6,741.6 992.3,739.0 989.1,736.3 986.4,734.5 984.0,732.1 981.4,730.1 978.9,727.8 976.8,725.2 973.8,723.6 971.5,721.2 969.0,719.0 965.6,716.6 962.2,714.2 958.9,711.6 955.4,710.3 952.5,707.9 948.9,706.7 946.1,704.8 942.7,704.2 939.7,702.6 936.4,701.6 933.3,700.2 929.9,699.6 926.5,698.9 922.7,698.7 919.0,697.8 918.9,694.0 917.1,690.3 915.3,686.5 914.0,683.2 912.9,679.8 911.5,676.5 914.6,674.3 917.9,672.3 920.8,669.8 924.1,667.9 927.4,665.8 930.8,663.9 934.1,661.6 937.4,660.0 940.7,658.2 944.0,656.5 945.6,653.2 947.8,650.3 948.8,645.9 949.0,641.5 948.6,638.2 947.9,634.9 947.8,631.5 944.0,626.5 944.9,622.8 945.1,619.0 948.6,617.5 951.5,615.3 953.8,612.0 956.6,609.1 957.6,605.2Z"/>
<path class="b" d="M953.8,612.0 956.6,609.1 957.6,605.2 959.0,601.5 962.3,601.2 965.6,600.3 969.0,600.0 973.2,600.1 977.3,601.1 981.5,601.4 985.1,603.7 989.0,605.2 991.3,602.4 992.8,599.0 993.8,602.3 994.4,605.7 995.3,609.0 997.4,612.6 998.9,616.6 1002.6,619.3 1006.6,621.4 1009.1,623.5 1011.6,625.5 1014.0,627.8 1017.8,628.1 1021.5,628.8 1022.7,634.0 1020.3,637.1 1017.7,640.2 1019.5,643.4 1021.4,646.6 1019.0,650.3 1016.4,653.9 1015.8,657.7 1015.2,661.5 1017.6,663.8 1019.8,666.2 1021.4,669.1 1022.9,672.4 1024.8,675.7 1026.3,679.1 1030.3,681.5 1034.1,683.9 1037.2,686.7 1040.4,689.4 1044.1,691.3 1046.6,693.9 1048.8,696.7 1051.6,698.9 1052.9,702.5 1054.7,705.7 1056.3,709.1 1057.9,712.2 1058.0,715.7 1058.9,719.0 1060.6,722.3 1062.1,725.8 1064.2,728.9 1066.1,731.5 1068.4,733.8 1070.2,736.6"/>
<path id="syria" fill="#245427" d="M864.6,625.3 868.0,628.5 869.1,625.5 871.2,622.8 872.3,619.6 872.9,616.3 875.4,613.1 879.0,612.3 882.7,612.1 886.0,611.8 889.3,611.3 893.5,611.0 897.5,609.5 901.6,611.0 905.7,612.2 908.8,613.8 912.2,614.5 916.4,614.0 920.5,613.2 924.4,610.6 928.7,608.9 932.1,608.4 935.1,606.7 938.5,606.6 941.8,606.1 945.1,605.7 948.4,605.8 952.1,604.7 955.4,602.8 959.0,601.4 957.3,605.1 956.7,609.1 953.9,612.0 951.4,615.2 948.4,617.2 945.3,619.1 944.3,622.7 943.8,626.5 947.9,631.4 947.9,634.9 948.9,638.1 948.9,641.5 948.6,645.9 947.7,650.2 945.8,653.3 944.1,656.6 940.7,658.2 937.4,660.0 934.0,661.4 930.6,663.4 927.3,665.6 923.9,667.6 921.0,669.8 917.8,671.7 914.5,673.1 911.6,675.4 907.8,677.9 904.1,680.4 900.9,682.6 897.4,684.5 894.0,686.5 890.8,688.8 887.2,690.5 884.0,692.8 880.7,693.0 877.3,693.1 874.0,692.6 869.5,691.1 865.2,689.0 865.1,684.8 865.2,680.7 865.3,676.5 867.6,673.0 869.1,669.1 870.3,665.3 871.6,661.5 875.1,656.4 872.9,653.9 870.3,651.4 865.2,651.4 864.8,648.2 865.2,644.9 864.8,641.7 864.6,638.4 864.7,635.1 864.4,631.9 864.2,628.6Z"/>
<path class="b" d="M864.6,625.3 868.0,628.5 869.1,625.5 871.2,622.8 872.3,619.6 872.9,616.3 875.4,613.1 879.0,612.3 882.7,612.1 886.0,611.8 889.3,611.3 893.5,611.0 897.5,609.5 901.6,611.0 905.7,612.2 908.8,613.8 912.2,614.5 916.4,614.0 920.5,613.2 924.4,610.6 928.7,608.9 932.1,608.4 935.1,606.7 938.5,606.6 941.8,606.1 945.1,605.7 948.4,605.8 952.1,604.7 955.4,602.8 959.0,601.4 957.3,605.1 956.7,609.1 953.9,612.0 951.4,615.2 948.4,617.2 945.3,619.1 944.3,622.7 943.8,626.5 947.9,631.4 947.9,634.9 948.9,638.1 948.9,641.5 948.6,645.9 947.7,650.2 945.8,653.3 944.1,656.6 940.7,658.2 937.4,660.0 934.0,661.4 930.6,663.4 927.3,665.6 923.9,667.6 921.0,669.8 917.8,671.7 914.5,673.1 911.6,675.4"/>
<path id="lebanon" fill="#1c491d" d="M865.2,651.5 870.2,651.5 875.2,656.5 871.5,661.5 869.0,669.0 865.2,676.5 860.2,679.0 861.5,666.5 863.5,657.8Z"/>
<path class="b" d="M865.2,651.5 870.2,651.5 875.2,656.5 871.5,661.5 869.0,669.0 865.2,676.5"/>
<path id="jordan" fill="#16371a" d="M865.2,689.0 869.6,691.0 874.0,692.7 877.3,693.2 880.7,693.0 884.0,693.0 887.5,690.9 890.4,688.2 894.0,686.4 897.0,685.1 899.9,683.2 902.6,681.3 905.7,679.9 908.7,678.4 911.5,676.5 912.5,679.9 914.3,683.1 915.4,686.4 917.2,690.2 919.0,694.0 919.0,697.8 915.7,699.0 912.3,700.2 909.0,701.5 905.8,703.2 902.5,704.4 899.0,705.3 895.8,706.8 892.3,707.6 888.9,708.8 887.5,712.7 891.1,715.6 894.0,719.0 896.8,722.5 900.3,725.2 903.9,730.3 900.6,731.7 897.4,733.7 894.1,735.4 890.6,736.3 887.4,738.0 884.0,739.0 881.5,742.8 878.8,746.4 875.4,749.3 871.5,751.5 867.4,750.8 863.2,750.4 859.0,750.4 857.5,744.0 858.1,740.5 859.4,737.3 860.2,734.0 861.0,729.9 860.6,725.6 861.6,721.5 862.0,717.8 862.5,714.0 862.2,710.2 862.8,706.5 862.8,702.3 863.8,698.2 864.2,694.0Z"/>
<path class="b" d="M859.0,750.4 857.5,744.0M865.2,689.0 869.6,691.0 874.0,692.7 877.3,693.2 880.7,693.0 884.0,693.0 887.5,690.9 890.4,688.2 894.0,686.4 897.0,685.1 899.9,683.2 902.6,681.3 905.7,679.9 908.7,678.4 911.5,676.5 912.5,679.9 914.3,683.1 915.4,686.4 917.2,690.2 919.0,694.0 919.0,697.8"/>
<path id="israel" fill="#16371a" d="M857.8,680.2 862.8,680.2 865.2,689.0 864.0,694.0 862.8,706.5 861.5,721.5 860.2,734.0 857.8,744.0 855.2,749.0 851.5,734.0 847.8,721.5 844.0,712.8 850.2,704.0 854.0,691.5Z"/>
<path class="b" d="M862.8,680.2 865.2,689.0 864.0,694.0 862.8,706.5 861.5,721.5 860.2,734.0 857.8,744.0 855.2,749.0 851.5,734.0 847.8,721.5 844.0,712.8"/>
<path id="israel_n" fill="#0a0f0a" d="M856.0,681.5 862.0,681.5 862.8,690.2 855.2,691.5Z"/>
<path id="westbank" fill="#b9bdb9" d="M855.2,692.8 861.5,692.8 862.8,701.5 861.5,709.0 855.2,710.2 854.0,701.5Z"/>
<path id="saudi" fill="#16371a" d="M859.0,750.2 863.2,750.6 867.3,751.1 871.5,751.5 875.0,748.7 879.0,746.4 881.4,742.7 883.9,738.9 887.2,737.4 890.7,736.5 894.0,735.2 897.6,734.1 900.5,731.6 904.0,730.2 900.3,725.2 897.3,721.9 893.9,719.1 890.6,716.2 887.8,712.7 888.8,708.9 892.4,707.9 895.5,706.0 899.0,705.2 902.3,703.8 905.5,702.4 909.0,701.4 912.4,700.5 915.8,699.3 919.0,697.7 922.8,698.1 926.5,699.1 929.9,699.7 933.2,700.7 936.5,701.7 939.7,702.5 942.8,703.9 945.9,705.1 949.0,706.5 952.2,708.5 955.9,709.5 959.0,711.5 962.1,714.3 965.4,716.8 968.9,719.1 971.5,721.2 974.0,723.4 976.9,725.2 979.1,727.6 981.8,729.6 984.0,732.1 986.2,734.7 989.0,736.6 992.1,739.3 995.7,741.4 999.0,744.0 1002.4,745.5 1005.5,747.6 1009.0,749.0 1012.1,749.9 1015.4,750.4 1018.4,751.6 1021.5,752.7 1025.6,753.6 1029.8,753.9 1034.0,753.8 1037.3,753.3 1040.7,753.4 1044.0,752.8 1047.7,754.7 1051.5,756.5 1053.9,759.1 1056.3,761.7 1059.0,764.0 1063.2,764.8 1067.3,765.6 1071.5,766.4 1074.9,767.2 1078.2,768.0 1081.6,768.8 1081.3,772.6 1081.0,776.1 1081.8,779.7 1081.5,783.3 1082.0,786.9 1081.5,790.4 1081.3,794.0 1078.3,793.8 1075.1,794.6 1071.9,794.5 1068.6,793.8 1065.4,794.2 1062.2,794.4 1059.0,794.2 1055.8,794.6 1052.6,793.9 1049.3,793.7 1046.1,794.3 1042.9,794.5 1039.7,793.9 1036.5,794.1 1033.3,793.7 1030.1,794.8 1026.8,794.0 1023.6,794.6 1020.4,794.1 1017.2,794.2 1014.0,794.5 1010.8,794.2 1007.6,794.0 1004.3,793.9 1001.1,794.9 997.9,794.6 994.7,794.5 991.5,794.0 988.3,794.6 985.0,794.0 981.8,794.7 978.6,794.0 975.4,794.8 972.2,795.0 969.0,794.2 965.8,794.3 962.5,794.9 959.3,794.5 956.1,795.0 952.9,794.5 949.7,794.9 946.5,794.4 943.3,795.0 940.0,795.0 936.8,794.7 933.6,795.1 930.4,795.0 927.2,794.7 924.0,794.7 920.7,794.3 917.5,794.9 914.3,795.2 911.1,794.5 907.9,794.9 904.7,795.3 901.5,795.3 898.2,794.7 895.0,795.2 891.8,795.0 888.6,795.1 885.4,795.3 882.2,795.4 878.9,795.3 875.7,794.9 872.5,794.8 869.3,794.9 869.0,791.3 868.5,787.7 868.5,784.0 867.0,780.6 864.7,777.6 859.5,773.9 855.5,772.8 856.1,769.5 856.1,766.0 856.0,761.9 857.1,758.0 857.7,754.0 857.8,750.0 856.5,746.0Z"/>
<path class="b" d="M857.7,754.0 857.8,750.0 856.5,746.0 859.0,750.2 863.2,750.6 867.3,751.1 871.5,751.5 875.0,748.7 879.0,746.4 881.4,742.7 883.9,738.9 887.2,737.4 890.7,736.5 894.0,735.2 897.6,734.1 900.5,731.6 904.0,730.2 900.3,725.2 897.3,721.9 893.9,719.1 890.6,716.2 887.8,712.7 888.8,708.9 892.4,707.9 895.5,706.0 899.0,705.2 902.3,703.8 905.5,702.4 909.0,701.4 912.4,700.5 915.8,699.3 919.0,697.7 922.8,698.1 926.5,699.1 929.9,699.7 933.2,700.7 936.5,701.7 939.7,702.5 942.8,703.9 945.9,705.1 949.0,706.5 952.2,708.5 955.9,709.5 959.0,711.5 962.1,714.3 965.4,716.8 968.9,719.1 971.5,721.2 974.0,723.4 976.9,725.2 979.1,727.6 981.8,729.6 984.0,732.1 986.2,734.7 989.0,736.6 992.1,739.3 995.7,741.4 999.0,744.0 1002.4,745.5 1005.5,747.6 1009.0,749.0 1012.1,749.9 1015.4,750.4 1018.4,751.6 1021.5,752.7 1025.6,753.6 1029.8,753.9 1034.0,753.8 1037.3,753.3 1040.7,753.4 1044.0,752.8"/>
<path id="kuwait" fill="#16371a" d="M1044.0,752.8 1050.2,737.8 1064.0,737.8 1066.5,744.0 1061.5,749.0 1066.5,756.5 1071.5,765.2 1059.0,764.0 1051.5,756.5Z"/>
<path class="b" d="M1071.5,765.2 1059.0,764.0 1051.5,756.5 1044.0,752.8 1050.2,737.8 1064.0,737.8"/>
<path id="iceland" fill="#1c491d" d="M33.4,100.4 36.4,98.7 39.3,96.8 43.8,93.1 46.9,91.9 49.7,90.1 52.5,88.5 54.8,86.2 60.1,84.8 64.4,87.2 68.9,89.3 72.6,92.4 72.1,97.5 74.2,101.2 77.8,98.8 82.3,98.2 85.3,93.0 88.2,91.3 91.3,95.9 95.6,93.7 98.8,90.9 102.3,92.4 104.5,89.9 109.0,92.4 112.7,90.6 116.4,93.8 121.0,95.8 123.7,92.1 128.4,90.9 132.7,88.4 137.1,84.7 143.1,85.0 147.5,88.7 152.0,87.7 155.1,87.5 158.0,86.3 156.4,90.7 159.6,95.2 163.8,98.3 167.6,102.0 166.8,105.2 166.7,108.6 164.8,110.9 162.5,113.1 159.5,114.1 156.5,114.6 153.7,116.4 150.6,117.5 147.6,119.7 144.7,120.7 141.6,120.5 138.7,121.3 135.1,122.8 131.2,124.0 127.6,126.0 123.9,127.9 120.2,129.0 116.4,130.0 112.9,132.0 109.0,132.9 106.2,134.3 103.0,134.3 100.1,135.1 95.7,135.8 91.2,135.2 88.2,134.9 85.3,134.2 82.3,134.0 78.5,133.5 74.9,132.4 72.1,130.4 68.9,129.5 65.3,128.7 61.6,128.4 57.8,128.5 54.1,129.4 48.2,128.7 49.7,124.9 52.7,122.0 56.3,118.8 57.2,114.5 52.7,113.7 48.2,113.8 43.8,114.7 40.4,113.7 37.0,113.9 36.3,111.6 40.1,110.9 43.8,110.2 46.7,109.4 49.7,109.5 52.6,108.6 55.5,107.3 58.5,106.3 61.5,105.3 64.5,104.7 62.9,102.0 59.3,102.5 55.6,103.2 52.6,103.0 49.6,102.1 46.0,101.4 42.3,101.9 39.3,101.5 36.3,101.2 33.4,100.4Z"/>
<ellipse cx="398.7" cy="325" rx="5.2" ry="2.6" fill="#fff" transform="rotate(-30 398.7 325)"/>
<circle cx="530" cy="628.2" r="1.1" fill="#8fb08f"/>
<ellipse cx="738.5" cy="621.5" rx="2.2" ry="4.0" fill="#a0db9c" fill-opacity=".8" transform="rotate(25 738.5 621.5)"/>
<ellipse cx="707" cy="560.5" rx="3.6" ry="1.8" fill="#a0db9c" fill-opacity=".8" transform="rotate(-20 707 560.5)"/>
<ellipse cx="706.5" cy="574" rx="1.6" ry="2.6" fill="#a0db9c" fill-opacity=".8" transform="rotate(0 706.5 574)"/>
<ellipse cx="711.5" cy="584.5" rx="2.4" ry="1.3" fill="#a0db9c" fill-opacity=".8" transform="rotate(10 711.5 584.5)"/>
<ellipse cx="681" cy="569" rx="1.6" ry="3.8" fill="#a0db9c" fill-opacity=".8" transform="rotate(-38 681 569)"/>
<ellipse cx="690.5" cy="588" rx="1.3" ry="1.3" fill="#a0db9c" fill-opacity=".8" transform="rotate(0 690.5 588)"/>
<ellipse cx="697" cy="592" rx="1.2" ry="1.2" fill="#a0db9c" fill-opacity=".8" transform="rotate(0 697 592)"/>
<ellipse cx="700" cy="583" rx="1.2" ry="1.0" fill="#a0db9c" fill-opacity=".8" transform="rotate(0 700 583)"/>
<ellipse cx="694" cy="600" rx="1.5" ry="1.0" fill="#a0db9c" fill-opacity=".8" transform="rotate(0 694 600)"/>
<ellipse cx="702.5" cy="603" rx="1.2" ry="1.2" fill="#a0db9c" fill-opacity=".8" transform="rotate(0 702.5 603)"/>
<ellipse cx="709.5" cy="598" rx="1.0" ry="1.4" fill="#a0db9c" fill-opacity=".8" transform="rotate(0 709.5 598)"/>
<ellipse cx="688.5" cy="552" rx="1.8" ry="1.2" fill="#a0db9c" fill-opacity=".8" transform="rotate(0 688.5 552)"/>
<ellipse cx="697" cy="556" rx="1.3" ry="1.0" fill="#a0db9c" fill-opacity=".8" transform="rotate(0 697 556)"/>
<ellipse cx="629.5" cy="569.5" rx="1.2" ry="2.0" fill="#a0db9c" fill-opacity=".8" transform="rotate(0 629.5 569.5)"/>
<ellipse cx="632" cy="581" rx="1.4" ry="2.2" fill="#a0db9c" fill-opacity=".8" transform="rotate(20 632 581)"/>
<ellipse cx="726" cy="607" rx="1.6" ry="1.1" fill="#a0db9c" fill-opacity=".8" transform="rotate(30 726 607)"/>
<ellipse cx="719.5" cy="596" rx="1.3" ry="1.0" fill="#a0db9c" fill-opacity=".8" transform="rotate(0 719.5 596)"/>
<rect x="93" y="781.3" width="72" height="4" fill="#d6d8d6"/>
<rect x="0" y="784" width="1079" height="1.2" fill="#0a0a0a" fill-opacity=".45"/><rect x="0" y="785" width="1079" height="7" fill="#080808"/>
<text x="102.5" y="119.5" font-size="11.5" fill="#f4f9f2">+52%</text>
<text x="455" y="182.5" font-size="17" fill="#f4f9f2">+31%</text>
<text x="528" y="202.5" font-size="17" fill="#f4f9f2">+22.1%</text>
<text x="666" y="157.5" font-size="17" fill="#f4f9f2">+12%</text>
<text x="673" y="217.5" font-size="12" fill="#f4f9f2">-18.8%</text>
<text x="673" y="249" font-size="12" fill="#f4f9f2">-28.6%</text>
<text x="658" y="278" font-size="12" fill="#f4f9f2">-24.3%</text>
<text x="714" y="312.5" font-size="17" fill="#f4f9f2">-9.8%</text>
<text x="907" y="256" font-size="17" fill="#f4f9f2">-3%</text>
<text x="594" y="335" font-size="17" fill="#f4f9f2">-1.3%</text>
<text x="462.5" y="349" font-size="17" fill="#0f3516">+5.9%</text>
<text x="528" y="377.5" font-size="12" fill="#0f3516">+1.9%</text>
<text x="586" y="399" font-size="12" fill="#0f3516">+1.9%</text>
<text x="533" y="417.5" font-size="12" fill="#f4f9f2">+16.9%</text>
<text x="594" y="431" font-size="17" fill="#f4f9f2">-6.8%</text>
<text x="436" y="429" font-size="12" fill="#f4f9f2">+31.3%</text>
<text x="351" y="431" font-size="17" fill="#f4f9f2">+17.1%</text>
<text x="299" y="336" font-size="17" fill="#f4f9f2">+16.9%</text>
<text x="215" y="319" font-size="12" fill="#f4f9f2">+45.7%</text>
<text x="379" y="311" font-size="12" fill="#111">+18%</text>
<text x="359" y="341" font-size="12" fill="#111">+17%</text>
<text x="410.5" y="269.5" font-size="12" fill="#111">+15.7%</text>
<text x="262.5" y="552.5" font-size="17" fill="#f4f9f2">+22.4%</text>
<text x="180" y="574" font-size="12" fill="#0f3516">+4%</text>
<text x="207" y="699" font-size="17" fill="#f4f9f2">+53.1%</text>
<text x="358.5" y="690" font-size="17" fill="#f4f9f2">+75.4%</text>
<text x="559" y="764" font-size="17" fill="#f4f9f2">+58.1%</text>
<text x="771" y="763.5" font-size="17" fill="#f4f9f2">+94.1%</text>
<text x="826" y="696.5" font-size="12" fill="#111">+104.3%</text>
<text x="903" y="646.5" font-size="17" fill="#f4f9f2">+78.2%</text>
<text x="981.5" y="690" font-size="17" fill="#f4f9f2">+151.4%</text>
<text x="937.5" y="770" font-size="17" fill="#f4f9f2">+127.5%</text>
<text x="843" y="576" font-size="17" fill="#f4f9f2">+57.1%</text>
<text x="1034.5" y="551" font-size="15" fill="#f4f9f2">+41.7%</text>
<text x="965.5" y="518" font-size="12" fill="#f4f9f2">-22.9%</text>
<text x="777" y="385" font-size="17" fill="#f4f9f2">-28.9%</text>
<text x="680" y="451" font-size="17" fill="#f4f9f2">-18.5%</text>
<text x="726" y="437.5" font-size="11.5" fill="#f4f9f2">-13.8%</text>
<text x="691" y="505.5" font-size="17" fill="#f4f9f2">-25.3%</text>
<text x="625.5" y="483" font-size="12" fill="#f4f9f2">-11.8%</text>
<text x="577.5" y="476" font-size="11.5" fill="#f4f9f2">-28.9%</text>
<text x="501" y="506" font-size="17" fill="#0f3516">+3.9%</text>
<text x="648.5" y="574" font-size="12" fill="#0f3516">+3.9%</text>
</svg>
<h1>Total population change, 1990-2022</h1>
<p class="sub">Data from World Bank. By Marko Jukic / Follow @mmjukic on Twitter.</p>
</body></html>
